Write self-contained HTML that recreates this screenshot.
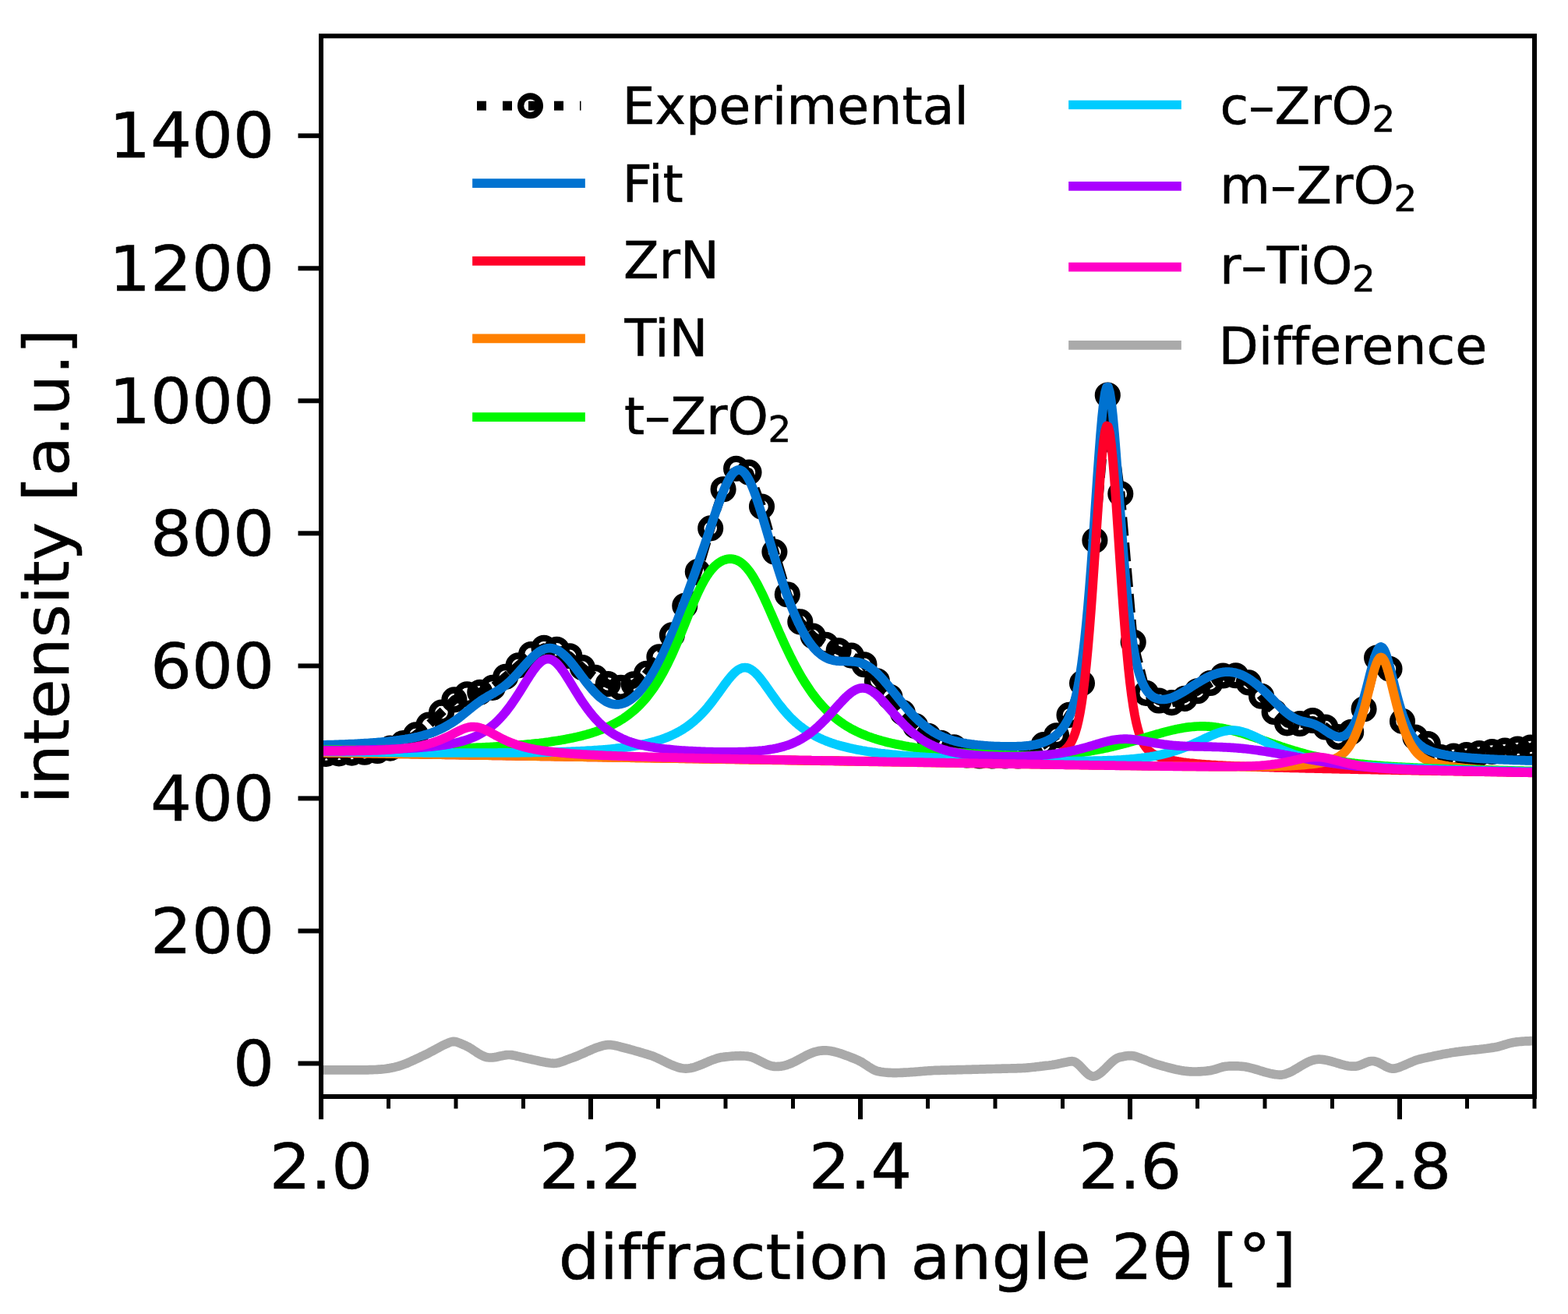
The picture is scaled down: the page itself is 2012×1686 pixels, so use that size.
<!DOCTYPE html><html><head><meta charset="utf-8"><title>XRD fit</title><style>html,body{margin:0;padding:0;background:#fff;}svg{display:block;}text{font-family:'DejaVu Sans', 'Liberation Sans', sans-serif;fill:#000;font-variant-ligatures:none;font-kerning:normal;stroke:#000;stroke-width:0.6px;}</style></head><body>
<svg width="2012" height="1686" viewBox="0 0 2012 1686">
<rect width="2012" height="1686" fill="#fff"/>
<defs><clipPath id="ax"><rect x="412.0" y="46.2" width="1557.0" height="1360.8"/></clipPath></defs>
<g clip-path="url(#ax)">
<polyline points="402.1,967.9 418.5,967.4 434.9,966.9 451.4,966.1 467.8,965.2 484.3,963.5 500.7,960.1 517.1,953.6 533.6,942.9 550,930.1 566.5,914.1 582.9,897.9 599.3,890.7 615.8,888.3 632.2,882.4 648.7,868.4 665.1,853.9 681.5,839.6 698,831.2 714.4,833.3 730.9,841.8 747.3,856.5 763.7,869.4 780.2,877.6 796.6,882.2 813.1,877.9 829.5,864.3 845.9,842.9 862.4,814.9 878.8,777.2 895.3,733.6 911.7,677.9 928.1,627.7 944.6,601.3 961,606.1 977.5,650 993.9,708.1 1010.3,762.7 1026.8,797.9 1043.2,816 1059.7,827.2 1076.1,834.8 1092.5,841.1 1109,852.7 1125.4,873.7 1141.9,894.2 1158.3,914.4 1174.7,931.6 1191.2,944.4 1207.6,953.2 1224.1,958.8 1240.5,969 1256.9,970 1273.4,970 1289.8,970 1306.3,970 1322.7,969 1339.1,955.6 1355.6,943.8 1372,917.4 1388.5,876.6 1404.9,693.2 1421.3,507 1437.8,633.5 1454.2,824 1470.7,889.4 1487.1,899 1503.5,901.6 1520,896.4 1536.4,886.8 1552.9,876.5 1569.3,867 1585.7,866.8 1602.2,875.9 1618.6,893.3 1635.1,913.5 1651.5,927.9 1667.9,928.5 1684.4,924.5 1700.8,933 1717.3,945.5 1733.7,939.3 1750.1,909.7 1766.6,844 1783,858.2 1799.5,925.4 1815.9,946 1832.3,954.5 1848.8,971.5 1865.2,970 1881.7,968.5 1898.1,966.5 1914.5,964.5 1931,963 1947.4,961 1963.9,959 1980.3,957" fill="none" stroke="#000" stroke-width="11.7" stroke-linejoin="round" stroke-linecap="square" stroke-dasharray="12.4 20.6" stroke-linecap="butt"/>
<g fill="none" stroke="#000" stroke-width="8.3"><circle cx="402.1" cy="967.9" r="12.4"/><circle cx="418.5" cy="967.4" r="12.4"/><circle cx="434.9" cy="966.9" r="12.4"/><circle cx="451.4" cy="966.1" r="12.4"/><circle cx="467.8" cy="965.2" r="12.4"/><circle cx="484.3" cy="963.5" r="12.4"/><circle cx="500.7" cy="960.1" r="12.4"/><circle cx="517.1" cy="953.6" r="12.4"/><circle cx="533.6" cy="942.9" r="12.4"/><circle cx="550" cy="930.1" r="12.4"/><circle cx="566.5" cy="914.1" r="12.4"/><circle cx="582.9" cy="897.9" r="12.4"/><circle cx="599.3" cy="890.7" r="12.4"/><circle cx="615.8" cy="888.3" r="12.4"/><circle cx="632.2" cy="882.4" r="12.4"/><circle cx="648.7" cy="868.4" r="12.4"/><circle cx="665.1" cy="853.9" r="12.4"/><circle cx="681.5" cy="839.6" r="12.4"/><circle cx="698" cy="831.2" r="12.4"/><circle cx="714.4" cy="833.3" r="12.4"/><circle cx="730.9" cy="841.8" r="12.4"/><circle cx="747.3" cy="856.5" r="12.4"/><circle cx="763.7" cy="869.4" r="12.4"/><circle cx="780.2" cy="877.6" r="12.4"/><circle cx="796.6" cy="882.2" r="12.4"/><circle cx="813.1" cy="877.9" r="12.4"/><circle cx="829.5" cy="864.3" r="12.4"/><circle cx="845.9" cy="842.9" r="12.4"/><circle cx="862.4" cy="814.9" r="12.4"/><circle cx="878.8" cy="777.2" r="12.4"/><circle cx="895.3" cy="733.6" r="12.4"/><circle cx="911.7" cy="677.9" r="12.4"/><circle cx="928.1" cy="627.7" r="12.4"/><circle cx="944.6" cy="601.3" r="12.4"/><circle cx="961" cy="606.1" r="12.4"/><circle cx="977.5" cy="650" r="12.4"/><circle cx="993.9" cy="708.1" r="12.4"/><circle cx="1010.3" cy="762.7" r="12.4"/><circle cx="1026.8" cy="797.9" r="12.4"/><circle cx="1043.2" cy="816" r="12.4"/><circle cx="1059.7" cy="827.2" r="12.4"/><circle cx="1076.1" cy="834.8" r="12.4"/><circle cx="1092.5" cy="841.1" r="12.4"/><circle cx="1109" cy="852.7" r="12.4"/><circle cx="1125.4" cy="873.7" r="12.4"/><circle cx="1141.9" cy="894.2" r="12.4"/><circle cx="1158.3" cy="914.4" r="12.4"/><circle cx="1174.7" cy="931.6" r="12.4"/><circle cx="1191.2" cy="944.4" r="12.4"/><circle cx="1207.6" cy="953.2" r="12.4"/><circle cx="1224.1" cy="958.8" r="12.4"/><circle cx="1240.5" cy="969" r="12.4"/><circle cx="1256.9" cy="970" r="12.4"/><circle cx="1273.4" cy="970" r="12.4"/><circle cx="1289.8" cy="970" r="12.4"/><circle cx="1306.3" cy="970" r="12.4"/><circle cx="1322.7" cy="969" r="12.4"/><circle cx="1339.1" cy="955.6" r="12.4"/><circle cx="1355.6" cy="943.8" r="12.4"/><circle cx="1372" cy="917.4" r="12.4"/><circle cx="1388.5" cy="876.6" r="12.4"/><circle cx="1404.9" cy="693.2" r="12.4"/><circle cx="1421.3" cy="507" r="12.4"/><circle cx="1437.8" cy="633.5" r="12.4"/><circle cx="1454.2" cy="824" r="12.4"/><circle cx="1470.7" cy="889.4" r="12.4"/><circle cx="1487.1" cy="899" r="12.4"/><circle cx="1503.5" cy="901.6" r="12.4"/><circle cx="1520" cy="896.4" r="12.4"/><circle cx="1536.4" cy="886.8" r="12.4"/><circle cx="1552.9" cy="876.5" r="12.4"/><circle cx="1569.3" cy="867" r="12.4"/><circle cx="1585.7" cy="866.8" r="12.4"/><circle cx="1602.2" cy="875.9" r="12.4"/><circle cx="1618.6" cy="893.3" r="12.4"/><circle cx="1635.1" cy="913.5" r="12.4"/><circle cx="1651.5" cy="927.9" r="12.4"/><circle cx="1667.9" cy="928.5" r="12.4"/><circle cx="1684.4" cy="924.5" r="12.4"/><circle cx="1700.8" cy="933" r="12.4"/><circle cx="1717.3" cy="945.5" r="12.4"/><circle cx="1733.7" cy="939.3" r="12.4"/><circle cx="1750.1" cy="909.7" r="12.4"/><circle cx="1766.6" cy="844" r="12.4"/><circle cx="1783" cy="858.2" r="12.4"/><circle cx="1799.5" cy="925.4" r="12.4"/><circle cx="1815.9" cy="946" r="12.4"/><circle cx="1832.3" cy="954.5" r="12.4"/><circle cx="1848.8" cy="971.5" r="12.4"/><circle cx="1865.2" cy="970" r="12.4"/><circle cx="1881.7" cy="968.5" r="12.4"/><circle cx="1898.1" cy="966.5" r="12.4"/><circle cx="1914.5" cy="964.5" r="12.4"/><circle cx="1931" cy="963" r="12.4"/><circle cx="1947.4" cy="961" r="12.4"/><circle cx="1963.9" cy="959" r="12.4"/><circle cx="1980.3" cy="957" r="12.4"/></g>
<polyline points="404,956.1 406,956.1 408,956 410,956 412,955.9 414,955.9 416,955.8 418,955.8 420,955.7 422,955.7 424,955.6 426,955.5 428,955.5 430,955.4 432,955.4 434,955.3 436,955.2 438,955.1 440,955.1 442,955 444,954.9 446,954.8 448,954.7 450,954.6 452,954.6 454,954.5 456,954.4 458,954.3 460,954.2 462,954.1 464,953.9 466,953.8 468,953.7 470,953.6 472,953.5 474,953.3 476,953.2 478,953.1 480,952.9 482,952.8 484,952.6 486,952.4 488,952.3 490,952.1 492,951.9 494,951.7 496,951.5 498,951.3 500,951.1 502,950.9 504,950.7 506,950.4 508,950.2 510,949.9 512,949.7 514,949.4 516,949.1 518,948.8 520,948.5 522,948.1 524,947.8 526,947.4 528,947.1 530,946.7 532,946.3 534,945.8 536,945.4 538,944.9 540,944.4 542,943.9 544,943.3 546,942.8 548,942.2 550,941.5 552,940.9 554,940.2 556,939.4 558,938.7 560,937.9 562,937 564,936.1 566,935.2 568,934.2 570,933.2 572,932.1 574,931 576,929.8 578,928.6 580,927.3 582,926 584,924.6 586,923.2 588,921.7 590,920.2 592,918.6 594,917 596,915.4 598,913.8 600,912.1 602,910.5 604,908.9 606,907.3 608,905.7 610,904.1 612,902.6 614,901.2 616,899.8 618,898.4 620,897.1 622,895.9 624,894.7 626,893.5 628,892.4 630,891.3 632,890.1 634,889 636,887.8 638,886.6 640,885.4 642,884 644,882.7 646,881.2 648,879.6 650,878 652,876.3 654,874.4 656,872.5 658,870.6 660,868.5 662,866.4 664,864.2 666,862 668,859.7 670,857.5 672,855.2 674,853 676,850.8 678,848.6 680,846.5 682,844.5 684,842.6 686,840.7 688,839.1 690,837.5 692,836.1 694,834.9 696,833.9 698,833 700,832.4 702,831.9 704,831.7 706,831.6 708,831.8 710,832.2 712,832.8 714,833.6 716,834.6 718,835.8 720,837.2 722,838.8 724,840.6 726,842.5 728,844.5 730,846.7 732,849 734,851.5 736,853.9 738,856.5 740,859.1 742,861.8 744,864.5 746,867.2 748,869.8 750,872.5 752,875.1 754,877.7 756,880.2 758,882.6 760,884.9 762,887.1 764,889.2 766,891.2 768,893.1 770,894.9 772,896.4 774,897.9 776,899.2 778,900.4 780,901.3 782,902.2 784,902.9 786,903.4 788,903.7 790,903.9 792,903.9 794,903.8 796,903.5 798,903.1 800,902.4 802,901.7 804,900.8 806,899.7 808,898.5 810,897.1 812,895.6 814,893.9 816,892.1 818,890.2 820,888.1 822,885.8 824,883.5 826,881 828,878.3 830,875.5 832,872.6 834,869.6 836,866.4 838,863.1 840,859.6 842,856.1 844,852.4 846,848.5 848,844.6 850,840.5 852,836.3 854,832 856,827.6 858,823.1 860,818.4 862,813.7 864,808.9 866,803.9 868,798.9 870,793.8 872,788.7 874,783.5 876,778.2 878,772.8 880,767.4 882,762 884,756.5 886,751 888,745.4 890,739.8 892,734.2 894,728.5 896,722.8 898,717 900,711.2 902,705.4 904,699.6 906,693.7 908,687.8 910,681.8 912,675.9 914,670 916,664.1 918,658.2 920,652.5 922,646.8 924,641.3 926,636 928,630.9 930,626.1 932,621.7 934,617.5 936,613.9 938,610.6 940,607.9 942,605.7 944,604.2 946,603.2 948,602.8 950,603.1 952,604 954,605.5 956,607.6 958,610.4 960,613.7 962,617.5 964,621.8 966,626.6 968,631.7 970,637.2 972,643 974,649.1 976,655.4 978,661.8 980,668.4 982,675.1 984,681.8 986,688.6 988,695.3 990,702 992,708.7 994,715.3 996,721.9 998,728.3 1000,734.6 1002,740.8 1004,746.8 1006,752.7 1008,758.4 1010,764 1012,769.4 1014,774.7 1016,779.7 1018,784.6 1020,789.3 1022,793.8 1024,798.2 1026,802.3 1028,806.3 1030,810 1032,813.6 1034,817 1036,820.1 1038,823.1 1040,825.9 1042,828.5 1044,831 1046,833.2 1048,835.3 1050,837.1 1052,838.8 1054,840.4 1056,841.8 1058,843 1060,844 1062,845 1064,845.8 1066,846.4 1068,847 1070,847.4 1072,847.8 1074,848.1 1076,848.2 1078,848.4 1080,848.5 1082,848.5 1084,848.5 1086,848.5 1088,848.6 1090,848.6 1092,848.7 1094,848.8 1096,849 1098,849.2 1100,849.5 1102,850 1104,850.5 1106,851.1 1108,851.9 1110,852.8 1112,853.8 1114,854.9 1116,856.2 1118,857.6 1120,859.2 1122,860.8 1124,862.6 1126,864.5 1128,866.5 1130,868.6 1132,870.7 1134,873 1136,875.3 1138,877.6 1140,880 1142,882.5 1144,884.9 1146,887.4 1148,889.9 1150,892.4 1152,894.9 1154,897.4 1156,899.8 1158,902.3 1160,904.7 1162,907 1164,909.3 1166,911.6 1168,913.8 1170,916 1172,918.1 1174,920.1 1176,922.1 1178,924 1180,925.9 1182,927.6 1184,929.3 1186,931 1188,932.5 1190,934 1192,935.5 1194,936.8 1196,938.2 1198,939.4 1200,940.6 1202,941.7 1204,942.7 1206,943.7 1208,944.7 1210,945.6 1212,946.4 1214,947.2 1216,947.9 1218,948.6 1220,949.3 1222,949.9 1224,950.5 1226,951 1228,951.5 1230,952 1232,952.4 1234,952.9 1236,953.3 1238,953.6 1240,954 1242,954.3 1244,954.6 1246,954.9 1248,955.1 1250,955.4 1252,955.6 1254,955.9 1256,956.1 1258,956.2 1260,956.4 1262,956.6 1264,956.8 1266,956.9 1268,957 1270,957.2 1272,957.3 1274,957.4 1276,957.5 1278,957.6 1280,957.6 1282,957.7 1284,957.8 1286,957.8 1288,957.9 1290,957.9 1292,957.9 1294,957.9 1296,957.9 1298,957.9 1300,957.9 1302,957.8 1304,957.8 1306,957.7 1308,957.6 1310,957.5 1312,957.4 1314,957.2 1316,957.1 1318,956.9 1320,956.7 1322,956.4 1324,956.1 1326,955.8 1328,955.4 1330,955 1332,954.5 1334,954 1336,953.4 1338,952.8 1340,952.1 1342,951.2 1344,950.3 1346,949.3 1348,948.2 1350,947 1352,945.6 1354,944.1 1356,942.4 1358,940.6 1360,938.5 1362,936.3 1364,933.7 1366,930.9 1368,927.6 1370,924 1372,919.8 1374,915 1376,909.5 1378,903.1 1380,895.7 1382,887 1384,877 1386,865.3 1388,851.9 1390,836.5 1392,819.1 1394,799.5 1396,777.8 1398,753.9 1400,728.1 1402,700.7 1404,672.1 1406,642.8 1408,613.6 1410,585.3 1412,559 1414,535.8 1416,517 1418,503.7 1420,496.7 1422,496.5 1424,503.1 1426,515.8 1428,533.8 1430,556 1432,581 1434,607.8 1436,635.4 1438,662.9 1440,689.6 1442,715.1 1444,739 1446,760.9 1448,780.7 1450,798.4 1452,814.1 1454,827.7 1456,839.4 1458,849.4 1460,858 1462,865.2 1464,871.2 1466,876.3 1468,880.5 1470,884 1472,886.9 1474,889.4 1476,891.4 1478,893 1480,894.4 1482,895.4 1484,896.2 1486,896.8 1488,897.2 1490,897.4 1492,897.5 1494,897.4 1496,897.2 1498,896.8 1500,896.3 1502,895.7 1504,895 1506,894.2 1508,893.3 1510,892.3 1512,891.3 1514,890.2 1516,889.1 1518,887.9 1520,886.7 1522,885.5 1524,884.2 1526,883 1528,881.7 1530,880.4 1532,879.1 1534,877.9 1536,876.6 1538,875.4 1540,874.2 1542,873 1544,871.9 1546,870.8 1548,869.7 1550,868.7 1552,867.8 1554,866.9 1556,866.1 1558,865.3 1560,864.7 1562,864 1564,863.5 1566,863.1 1568,862.7 1570,862.4 1572,862.2 1574,862.1 1576,862.1 1578,862.2 1580,862.4 1582,862.7 1584,863 1586,863.5 1588,864.1 1590,864.7 1592,865.5 1594,866.3 1596,867.3 1598,868.3 1600,869.4 1602,870.6 1604,871.9 1606,873.3 1608,874.7 1610,876.3 1612,877.8 1614,879.5 1616,881.2 1618,883 1620,884.8 1622,886.7 1624,888.6 1626,890.5 1628,892.5 1630,894.5 1632,896.5 1634,898.5 1636,900.6 1638,902.6 1640,904.6 1642,906.5 1644,908.4 1646,910.3 1648,912.1 1650,913.9 1652,915.5 1654,917 1656,918.5 1658,919.8 1660,921 1662,922 1664,922.9 1666,923.7 1668,924.4 1670,925 1672,925.6 1674,926 1676,926.5 1678,926.9 1680,927.3 1682,927.9 1684,928.5 1686,929.1 1688,929.9 1690,930.9 1692,931.9 1694,933.1 1696,934.3 1698,935.6 1700,937 1702,938.3 1704,939.7 1706,941 1708,942.1 1710,943.2 1712,944.1 1714,944.8 1716,945.3 1718,945.5 1720,945.5 1722,945.1 1724,944.4 1726,943.4 1728,942 1730,940.2 1732,938 1734,935.3 1736,932.1 1738,928.5 1740,924.4 1742,919.7 1744,914.5 1746,908.7 1748,902.5 1750,895.7 1752,888.5 1754,881 1756,873.2 1758,865.3 1760,857.6 1762,850.2 1764,843.5 1766,837.9 1768,833.5 1770,830.8 1772,829.9 1774,830.9 1776,833.7 1778,838.2 1780,844 1782,850.8 1784,858.4 1786,866.4 1788,874.5 1790,882.5 1792,890.3 1794,897.8 1796,904.9 1798,911.5 1800,917.6 1802,923.2 1804,928.4 1806,933 1808,937.2 1810,940.9 1812,944.2 1814,947.1 1816,949.8 1818,952.1 1820,954.1 1822,955.9 1824,957.4 1826,958.8 1828,960.1 1830,961.2 1832,962.1 1834,963 1836,963.8 1838,964.5 1840,965.2 1842,965.7 1844,966.3 1846,966.8 1848,967.3 1850,967.7 1852,968.1 1854,968.5 1856,968.8 1858,969.2 1860,969.5 1862,969.8 1864,970 1866,970.3 1868,970.6 1870,970.8 1872,971 1874,971.2 1876,971.4 1878,971.6 1880,971.8 1882,972 1884,972.2 1886,972.3 1888,972.5 1890,972.7 1892,972.8 1894,972.9 1896,973.1 1898,973.2 1900,973.3 1902,973.5 1904,973.6 1906,973.7 1908,973.8 1910,973.9 1912,974 1914,974.1 1916,974.2 1918,974.3 1920,974.4 1922,974.5 1924,974.6 1926,974.6 1928,974.7 1930,974.8 1932,974.9 1934,975 1936,975 1938,975.1 1940,975.2 1942,975.3 1944,975.3 1946,975.4 1948,975.5 1950,975.5 1952,975.6 1954,975.6 1956,975.7 1958,975.8 1960,975.8 1962,975.9 1964,975.9 1966,976 1968,976 1970,976.1 1972,976.2 1974,976.2 1976,976.3" fill="none" stroke="#0072d0" stroke-width="11.7" stroke-linejoin="round" stroke-linecap="square"/>
<polyline points="404,965.5 406,965.5 408,965.6 410,965.6 412,965.6 414,965.7 416,965.7 418,965.7 420,965.8 422,965.8 424,965.8 426,965.9 428,965.9 430,965.9 432,966 434,966 436,966 438,966.1 440,966.1 442,966.1 444,966.2 446,966.2 448,966.2 450,966.3 452,966.3 454,966.3 456,966.4 458,966.4 460,966.4 462,966.5 464,966.5 466,966.5 468,966.6 470,966.6 472,966.6 474,966.7 476,966.7 478,966.7 480,966.8 482,966.8 484,966.8 486,966.9 488,966.9 490,966.9 492,967 494,967 496,967 498,967.1 500,967.1 502,967.1 504,967.2 506,967.2 508,967.2 510,967.3 512,967.3 514,967.3 516,967.4 518,967.4 520,967.4 522,967.5 524,967.5 526,967.5 528,967.6 530,967.6 532,967.6 534,967.7 536,967.7 538,967.7 540,967.8 542,967.8 544,967.8 546,967.9 548,967.9 550,967.9 552,968 554,968 556,968 558,968.1 560,968.1 562,968.1 564,968.1 566,968.2 568,968.2 570,968.2 572,968.3 574,968.3 576,968.3 578,968.4 580,968.4 582,968.4 584,968.5 586,968.5 588,968.5 590,968.6 592,968.6 594,968.6 596,968.7 598,968.7 600,968.7 602,968.8 604,968.8 606,968.8 608,968.9 610,968.9 612,968.9 614,969 616,969 618,969 620,969.1 622,969.1 624,969.1 626,969.2 628,969.2 630,969.2 632,969.3 634,969.3 636,969.3 638,969.4 640,969.4 642,969.4 644,969.5 646,969.5 648,969.5 650,969.6 652,969.6 654,969.6 656,969.7 658,969.7 660,969.7 662,969.8 664,969.8 666,969.8 668,969.9 670,969.9 672,969.9 674,970 676,970 678,970 680,970 682,970.1 684,970.1 686,970.1 688,970.2 690,970.2 692,970.2 694,970.3 696,970.3 698,970.3 700,970.4 702,970.4 704,970.4 706,970.5 708,970.5 710,970.5 712,970.6 714,970.6 716,970.6 718,970.7 720,970.7 722,970.7 724,970.8 726,970.8 728,970.8 730,970.9 732,970.9 734,970.9 736,971 738,971 740,971 742,971.1 744,971.1 746,971.1 748,971.2 750,971.2 752,971.2 754,971.3 756,971.3 758,971.3 760,971.4 762,971.4 764,971.4 766,971.4 768,971.5 770,971.5 772,971.5 774,971.6 776,971.6 778,971.6 780,971.7 782,971.7 784,971.7 786,971.8 788,971.8 790,971.8 792,971.9 794,971.9 796,971.9 798,972 800,972 802,972 804,972.1 806,972.1 808,972.1 810,972.2 812,972.2 814,972.2 816,972.3 818,972.3 820,972.3 822,972.4 824,972.4 826,972.4 828,972.4 830,972.5 832,972.5 834,972.5 836,972.6 838,972.6 840,972.6 842,972.7 844,972.7 846,972.7 848,972.8 850,972.8 852,972.8 854,972.9 856,972.9 858,972.9 860,973 862,973 864,973 866,973.1 868,973.1 870,973.1 872,973.1 874,973.2 876,973.2 878,973.2 880,973.3 882,973.3 884,973.3 886,973.4 888,973.4 890,973.4 892,973.5 894,973.5 896,973.5 898,973.6 900,973.6 902,973.6 904,973.7 906,973.7 908,973.7 910,973.7 912,973.8 914,973.8 916,973.8 918,973.9 920,973.9 922,973.9 924,974 926,974 928,974 930,974.1 932,974.1 934,974.1 936,974.2 938,974.2 940,974.2 942,974.2 944,974.3 946,974.3 948,974.3 950,974.4 952,974.4 954,974.4 956,974.5 958,974.5 960,974.5 962,974.6 964,974.6 966,974.6 968,974.7 970,974.7 972,974.7 974,974.7 976,974.8 978,974.8 980,974.8 982,974.9 984,974.9 986,974.9 988,975 990,975 992,975 994,975 996,975.1 998,975.1 1000,975.1 1002,975.2 1004,975.2 1006,975.2 1008,975.3 1010,975.3 1012,975.3 1014,975.3 1016,975.4 1018,975.4 1020,975.4 1022,975.5 1024,975.5 1026,975.5 1028,975.6 1030,975.6 1032,975.6 1034,975.6 1036,975.7 1038,975.7 1040,975.7 1042,975.8 1044,975.8 1046,975.8 1048,975.8 1050,975.9 1052,975.9 1054,975.9 1056,976 1058,976 1060,976 1062,976 1064,976.1 1066,976.1 1068,976.1 1070,976.2 1072,976.2 1074,976.2 1076,976.2 1078,976.3 1080,976.3 1082,976.3 1084,976.3 1086,976.4 1088,976.4 1090,976.4 1092,976.4 1094,976.5 1096,976.5 1098,976.5 1100,976.6 1102,976.6 1104,976.6 1106,976.6 1108,976.7 1110,976.7 1112,976.7 1114,976.7 1116,976.8 1118,976.8 1120,976.8 1122,976.8 1124,976.9 1126,976.9 1128,976.9 1130,976.9 1132,977 1134,977 1136,977 1138,977 1140,977 1142,977.1 1144,977.1 1146,977.1 1148,977.1 1150,977.2 1152,977.2 1154,977.2 1156,977.2 1158,977.2 1160,977.3 1162,977.3 1164,977.3 1166,977.3 1168,977.3 1170,977.4 1172,977.4 1174,977.4 1176,977.4 1178,977.4 1180,977.4 1182,977.5 1184,977.5 1186,977.5 1188,977.5 1190,977.5 1192,977.5 1194,977.5 1196,977.6 1198,977.6 1200,977.6 1202,977.6 1204,977.6 1206,977.6 1208,977.6 1210,977.6 1212,977.6 1214,977.6 1216,977.6 1218,977.7 1220,977.7 1222,977.7 1224,977.7 1226,977.7 1228,977.7 1230,977.7 1232,977.7 1234,977.7 1236,977.7 1238,977.7 1240,977.6 1242,977.6 1244,977.6 1246,977.6 1248,977.6 1250,977.6 1252,977.6 1254,977.6 1256,977.5 1258,977.5 1260,977.5 1262,977.5 1264,977.5 1266,977.4 1268,977.4 1270,977.4 1272,977.3 1274,977.3 1276,977.2 1278,977.2 1280,977.2 1282,977.1 1284,977 1286,977 1288,976.9 1290,976.9 1292,976.8 1294,976.7 1296,976.6 1298,976.5 1300,976.4 1302,976.3 1304,976.2 1306,976.1 1308,976 1310,975.9 1312,975.7 1314,975.6 1316,975.4 1318,975.3 1320,975.1 1322,974.9 1324,974.7 1326,974.5 1328,974.2 1330,974 1332,973.7 1334,973.4 1336,973.1 1338,972.8 1340,972.4 1342,972 1344,971.6 1346,971.2 1348,970.7 1350,970.1 1352,969.5 1354,968.9 1356,968.1 1358,967.3 1360,966.4 1362,965.3 1364,964.1 1366,962.7 1368,960.9 1370,958.9 1372,956.3 1374,953.3 1376,949.5 1378,944.9 1380,939.2 1382,932.3 1384,923.9 1386,913.8 1388,901.8 1390,887.7 1392,871.3 1394,852.5 1396,831.3 1398,807.8 1400,782 1402,754.4 1404,725.3 1406,695.4 1408,665.4 1410,636.3 1412,609.2 1414,585.4 1416,566.2 1418,552.9 1420,546.4 1422,547.3 1424,555.4 1426,570.2 1428,590.6 1430,615.2 1432,642.9 1434,672.4 1436,702.5 1438,732.4 1440,761.3 1442,788.6 1444,813.9 1446,837.1 1448,857.8 1450,876.1 1452,892 1454,905.7 1456,917.3 1458,927.1 1460,935.2 1462,941.9 1464,947.4 1466,951.9 1468,955.6 1470,958.6 1472,961 1474,963.1 1476,964.8 1478,966.3 1480,967.6 1482,968.6 1484,969.6 1486,970.5 1488,971.3 1490,972 1492,972.6 1494,973.2 1496,973.8 1498,974.3 1500,974.8 1502,975.2 1504,975.6 1506,976 1508,976.4 1510,976.7 1512,977.1 1514,977.4 1516,977.7 1518,978 1520,978.2 1522,978.5 1524,978.7 1526,979 1528,979.2 1530,979.4 1532,979.6 1534,979.8 1536,980 1538,980.2 1540,980.3 1542,980.5 1544,980.7 1546,980.8 1548,981 1550,981.1 1552,981.2 1554,981.4 1556,981.5 1558,981.6 1560,981.7 1562,981.9 1564,982 1566,982.1 1568,982.2 1570,982.3 1572,982.4 1574,982.5 1576,982.6 1578,982.7 1580,982.8 1582,982.9 1584,983 1586,983 1588,983.1 1590,983.2 1592,983.3 1594,983.4 1596,983.4 1598,983.5 1600,983.6 1602,983.7 1604,983.7 1606,983.8 1608,983.9 1610,984 1612,984 1614,984.1 1616,984.1 1618,984.2 1620,984.3 1622,984.3 1624,984.4 1626,984.5 1628,984.5 1630,984.6 1632,984.6 1634,984.7 1636,984.8 1638,984.8 1640,984.9 1642,984.9 1644,985 1646,985 1648,985.1 1650,985.1 1652,985.2 1654,985.2 1656,985.3 1658,985.3 1660,985.4 1662,985.4 1664,985.5 1666,985.5 1668,985.6 1670,985.6 1672,985.7 1674,985.7 1676,985.8 1678,985.8 1680,985.9 1682,985.9 1684,986 1686,986 1688,986.1 1690,986.1 1692,986.2 1694,986.2 1696,986.2 1698,986.3 1700,986.3 1702,986.4 1704,986.4 1706,986.5 1708,986.5 1710,986.6 1712,986.6 1714,986.6 1716,986.7 1718,986.7 1720,986.8 1722,986.8 1724,986.9 1726,986.9 1728,986.9 1730,987 1732,987 1734,987.1 1736,987.1 1738,987.1 1740,987.2 1742,987.2 1744,987.3 1746,987.3 1748,987.3 1750,987.4 1752,987.4 1754,987.5 1756,987.5 1758,987.5 1760,987.6 1762,987.6 1764,987.7 1766,987.7 1768,987.7 1770,987.8 1772,987.8 1774,987.9 1776,987.9 1778,987.9 1780,988 1782,988 1784,988 1786,988.1 1788,988.1 1790,988.2 1792,988.2 1794,988.2 1796,988.3 1798,988.3 1800,988.3 1802,988.4 1804,988.4 1806,988.5 1808,988.5 1810,988.5 1812,988.6 1814,988.6 1816,988.6 1818,988.7 1820,988.7 1822,988.8 1824,988.8 1826,988.8 1828,988.9 1830,988.9 1832,988.9 1834,989 1836,989 1838,989.1 1840,989.1 1842,989.1 1844,989.2 1846,989.2 1848,989.2 1850,989.3 1852,989.3 1854,989.3 1856,989.4 1858,989.4 1860,989.5 1862,989.5 1864,989.5 1866,989.6 1868,989.6 1870,989.6 1872,989.7 1874,989.7 1876,989.7 1878,989.8 1880,989.8 1882,989.8 1884,989.9 1886,989.9 1888,990 1890,990 1892,990 1894,990.1 1896,990.1 1898,990.1 1900,990.2 1902,990.2 1904,990.2 1906,990.3 1908,990.3 1910,990.3 1912,990.4 1914,990.4 1916,990.4 1918,990.5 1920,990.5 1922,990.6 1924,990.6 1926,990.6 1928,990.7 1930,990.7 1932,990.7 1934,990.8 1936,990.8 1938,990.8 1940,990.9 1942,990.9 1944,990.9 1946,991 1948,991 1950,991 1952,991.1 1954,991.1 1956,991.1 1958,991.2 1960,991.2 1962,991.3 1964,991.3 1966,991.3 1968,991.4 1970,991.4 1972,991.4 1974,991.5 1976,991.5" fill="none" stroke="#ff0028" stroke-width="11.7" stroke-linejoin="round" stroke-linecap="square"/>
<polyline points="404,965.5 406,965.6 408,965.6 410,965.6 412,965.7 414,965.7 416,965.7 418,965.8 420,965.8 422,965.8 424,965.9 426,965.9 428,965.9 430,966 432,966 434,966 436,966.1 438,966.1 440,966.1 442,966.2 444,966.2 446,966.2 448,966.3 450,966.3 452,966.3 454,966.4 456,966.4 458,966.4 460,966.5 462,966.5 464,966.5 466,966.6 468,966.6 470,966.6 472,966.7 474,966.7 476,966.7 478,966.8 480,966.8 482,966.8 484,966.9 486,966.9 488,966.9 490,967 492,967 494,967 496,967.1 498,967.1 500,967.1 502,967.2 504,967.2 506,967.2 508,967.3 510,967.3 512,967.3 514,967.4 516,967.4 518,967.4 520,967.5 522,967.5 524,967.5 526,967.6 528,967.6 530,967.6 532,967.7 534,967.7 536,967.7 538,967.8 540,967.8 542,967.8 544,967.9 546,967.9 548,967.9 550,968 552,968 554,968 556,968.1 558,968.1 560,968.1 562,968.2 564,968.2 566,968.2 568,968.3 570,968.3 572,968.3 574,968.4 576,968.4 578,968.4 580,968.5 582,968.5 584,968.5 586,968.6 588,968.6 590,968.6 592,968.7 594,968.7 596,968.7 598,968.8 600,968.8 602,968.8 604,968.9 606,968.9 608,968.9 610,969 612,969 614,969 616,969.1 618,969.1 620,969.1 622,969.2 624,969.2 626,969.2 628,969.3 630,969.3 632,969.3 634,969.4 636,969.4 638,969.4 640,969.5 642,969.5 644,969.5 646,969.6 648,969.6 650,969.6 652,969.7 654,969.7 656,969.7 658,969.8 660,969.8 662,969.8 664,969.8 666,969.9 668,969.9 670,969.9 672,970 674,970 676,970 678,970.1 680,970.1 682,970.1 684,970.2 686,970.2 688,970.2 690,970.3 692,970.3 694,970.3 696,970.4 698,970.4 700,970.4 702,970.5 704,970.5 706,970.5 708,970.6 710,970.6 712,970.6 714,970.7 716,970.7 718,970.7 720,970.8 722,970.8 724,970.8 726,970.9 728,970.9 730,970.9 732,971 734,971 736,971 738,971.1 740,971.1 742,971.1 744,971.2 746,971.2 748,971.2 750,971.3 752,971.3 754,971.3 756,971.4 758,971.4 760,971.4 762,971.5 764,971.5 766,971.5 768,971.6 770,971.6 772,971.6 774,971.7 776,971.7 778,971.7 780,971.8 782,971.8 784,971.8 786,971.9 788,971.9 790,971.9 792,972 794,972 796,972 798,972.1 800,972.1 802,972.1 804,972.2 806,972.2 808,972.2 810,972.3 812,972.3 814,972.3 816,972.4 818,972.4 820,972.4 822,972.5 824,972.5 826,972.5 828,972.6 830,972.6 832,972.6 834,972.7 836,972.7 838,972.7 840,972.8 842,972.8 844,972.8 846,972.9 848,972.9 850,972.9 852,973 854,973 856,973 858,973.1 860,973.1 862,973.1 864,973.2 866,973.2 868,973.2 870,973.2 872,973.3 874,973.3 876,973.3 878,973.4 880,973.4 882,973.4 884,973.5 886,973.5 888,973.5 890,973.6 892,973.6 894,973.6 896,973.7 898,973.7 900,973.7 902,973.8 904,973.8 906,973.8 908,973.9 910,973.9 912,973.9 914,974 916,974 918,974 920,974.1 922,974.1 924,974.1 926,974.2 928,974.2 930,974.2 932,974.3 934,974.3 936,974.3 938,974.4 940,974.4 942,974.4 944,974.5 946,974.5 948,974.5 950,974.6 952,974.6 954,974.6 956,974.7 958,974.7 960,974.7 962,974.8 964,974.8 966,974.8 968,974.9 970,974.9 972,974.9 974,975 976,975 978,975 980,975.1 982,975.1 984,975.1 986,975.2 988,975.2 990,975.2 992,975.3 994,975.3 996,975.3 998,975.4 1000,975.4 1002,975.4 1004,975.5 1006,975.5 1008,975.5 1010,975.5 1012,975.6 1014,975.6 1016,975.6 1018,975.7 1020,975.7 1022,975.7 1024,975.8 1026,975.8 1028,975.8 1030,975.9 1032,975.9 1034,975.9 1036,976 1038,976 1040,976 1042,976.1 1044,976.1 1046,976.1 1048,976.2 1050,976.2 1052,976.2 1054,976.3 1056,976.3 1058,976.3 1060,976.4 1062,976.4 1064,976.4 1066,976.5 1068,976.5 1070,976.5 1072,976.6 1074,976.6 1076,976.6 1078,976.7 1080,976.7 1082,976.7 1084,976.8 1086,976.8 1088,976.8 1090,976.9 1092,976.9 1094,976.9 1096,977 1098,977 1100,977 1102,977.1 1104,977.1 1106,977.1 1108,977.1 1110,977.2 1112,977.2 1114,977.2 1116,977.3 1118,977.3 1120,977.3 1122,977.4 1124,977.4 1126,977.4 1128,977.5 1130,977.5 1132,977.5 1134,977.6 1136,977.6 1138,977.6 1140,977.7 1142,977.7 1144,977.7 1146,977.8 1148,977.8 1150,977.8 1152,977.9 1154,977.9 1156,977.9 1158,978 1160,978 1162,978 1164,978.1 1166,978.1 1168,978.1 1170,978.2 1172,978.2 1174,978.2 1176,978.2 1178,978.3 1180,978.3 1182,978.3 1184,978.4 1186,978.4 1188,978.4 1190,978.5 1192,978.5 1194,978.5 1196,978.6 1198,978.6 1200,978.6 1202,978.7 1204,978.7 1206,978.7 1208,978.8 1210,978.8 1212,978.8 1214,978.9 1216,978.9 1218,978.9 1220,979 1222,979 1224,979 1226,979.1 1228,979.1 1230,979.1 1232,979.1 1234,979.2 1236,979.2 1238,979.2 1240,979.3 1242,979.3 1244,979.3 1246,979.4 1248,979.4 1250,979.4 1252,979.5 1254,979.5 1256,979.5 1258,979.6 1260,979.6 1262,979.6 1264,979.7 1266,979.7 1268,979.7 1270,979.7 1272,979.8 1274,979.8 1276,979.8 1278,979.9 1280,979.9 1282,979.9 1284,980 1286,980 1288,980 1290,980.1 1292,980.1 1294,980.1 1296,980.2 1298,980.2 1300,980.2 1302,980.3 1304,980.3 1306,980.3 1308,980.3 1310,980.4 1312,980.4 1314,980.4 1316,980.5 1318,980.5 1320,980.5 1322,980.6 1324,980.6 1326,980.6 1328,980.7 1330,980.7 1332,980.7 1334,980.7 1336,980.8 1338,980.8 1340,980.8 1342,980.9 1344,980.9 1346,980.9 1348,981 1350,981 1352,981 1354,981.1 1356,981.1 1358,981.1 1360,981.1 1362,981.2 1364,981.2 1366,981.2 1368,981.3 1370,981.3 1372,981.3 1374,981.4 1376,981.4 1378,981.4 1380,981.4 1382,981.5 1384,981.5 1386,981.5 1388,981.6 1390,981.6 1392,981.6 1394,981.6 1396,981.7 1398,981.7 1400,981.7 1402,981.8 1404,981.8 1406,981.8 1408,981.9 1410,981.9 1412,981.9 1414,981.9 1416,982 1418,982 1420,982 1422,982.1 1424,982.1 1426,982.1 1428,982.1 1430,982.2 1432,982.2 1434,982.2 1436,982.2 1438,982.3 1440,982.3 1442,982.3 1444,982.4 1446,982.4 1448,982.4 1450,982.4 1452,982.5 1454,982.5 1456,982.5 1458,982.5 1460,982.6 1462,982.6 1464,982.6 1466,982.6 1468,982.7 1470,982.7 1472,982.7 1474,982.8 1476,982.8 1478,982.8 1480,982.8 1482,982.9 1484,982.9 1486,982.9 1488,982.9 1490,982.9 1492,983 1494,983 1496,983 1498,983 1500,983.1 1502,983.1 1504,983.1 1506,983.1 1508,983.2 1510,983.2 1512,983.2 1514,983.2 1516,983.2 1518,983.3 1520,983.3 1522,983.3 1524,983.3 1526,983.3 1528,983.4 1530,983.4 1532,983.4 1534,983.4 1536,983.4 1538,983.4 1540,983.5 1542,983.5 1544,983.5 1546,983.5 1548,983.5 1550,983.5 1552,983.6 1554,983.6 1556,983.6 1558,983.6 1560,983.6 1562,983.6 1564,983.6 1566,983.6 1568,983.6 1570,983.7 1572,983.7 1574,983.7 1576,983.7 1578,983.7 1580,983.7 1582,983.7 1584,983.7 1586,983.7 1588,983.7 1590,983.7 1592,983.7 1594,983.7 1596,983.7 1598,983.7 1600,983.7 1602,983.7 1604,983.7 1606,983.6 1608,983.6 1610,983.6 1612,983.6 1614,983.6 1616,983.6 1618,983.5 1620,983.5 1622,983.5 1624,983.5 1626,983.4 1628,983.4 1630,983.4 1632,983.3 1634,983.3 1636,983.2 1638,983.2 1640,983.1 1642,983.1 1644,983 1646,983 1648,982.9 1650,982.8 1652,982.7 1654,982.6 1656,982.6 1658,982.5 1660,982.4 1662,982.2 1664,982.1 1666,982 1668,981.9 1670,981.7 1672,981.6 1674,981.4 1676,981.2 1678,981 1680,980.8 1682,980.6 1684,980.4 1686,980.1 1688,979.9 1690,979.6 1692,979.3 1694,978.9 1696,978.6 1698,978.2 1700,977.7 1702,977.2 1704,976.7 1706,976.1 1708,975.5 1710,974.8 1712,974 1714,973 1716,972 1718,970.9 1720,969.5 1722,968 1724,966.3 1726,964.4 1728,962.1 1730,959.6 1732,956.7 1734,953.5 1736,949.9 1738,945.8 1740,941.2 1742,936.2 1744,930.6 1746,924.6 1748,918 1750,911 1752,903.6 1754,895.8 1756,887.8 1758,879.8 1760,871.8 1762,864.3 1764,857.4 1766,851.6 1768,847.1 1770,844.3 1772,843.3 1774,844.3 1776,847 1778,851.5 1780,857.3 1782,864.1 1784,871.7 1786,879.7 1788,887.8 1790,895.9 1792,903.8 1794,911.3 1796,918.4 1798,925 1800,931.2 1802,936.8 1804,942 1806,946.6 1808,950.8 1810,954.5 1812,957.9 1814,960.8 1816,963.5 1818,965.8 1820,967.8 1822,969.6 1824,971.2 1826,972.6 1828,973.8 1830,974.9 1832,975.9 1834,976.8 1836,977.6 1838,978.3 1840,978.9 1842,979.5 1844,980.1 1846,980.6 1848,981.1 1850,981.5 1852,981.9 1854,982.3 1856,982.6 1858,983 1860,983.3 1862,983.6 1864,983.9 1866,984.2 1868,984.4 1870,984.7 1872,984.9 1874,985.1 1876,985.3 1878,985.5 1880,985.7 1882,985.9 1884,986.1 1886,986.2 1888,986.4 1890,986.6 1892,986.7 1894,986.9 1896,987 1898,987.1 1900,987.3 1902,987.4 1904,987.5 1906,987.6 1908,987.7 1910,987.9 1912,988 1914,988.1 1916,988.2 1918,988.3 1920,988.4 1922,988.5 1924,988.6 1926,988.7 1928,988.7 1930,988.8 1932,988.9 1934,989 1936,989.1 1938,989.2 1940,989.2 1942,989.3 1944,989.4 1946,989.5 1948,989.5 1950,989.6 1952,989.7 1954,989.7 1956,989.8 1958,989.9 1960,989.9 1962,990 1964,990.1 1966,990.1 1968,990.2 1970,990.2 1972,990.3 1974,990.4 1976,990.4" fill="none" stroke="#ff8000" stroke-width="11.7" stroke-linejoin="round" stroke-linecap="square"/>
<polyline points="404,961.8 406,961.8 408,961.8 410,961.8 412,961.8 414,961.8 416,961.8 418,961.8 420,961.8 422,961.9 424,961.9 426,961.9 428,961.9 430,961.9 432,961.9 434,961.9 436,961.9 438,961.9 440,961.9 442,961.9 444,961.9 446,961.9 448,961.9 450,961.9 452,961.9 454,961.9 456,961.8 458,961.8 460,961.8 462,961.8 464,961.8 466,961.8 468,961.8 470,961.8 472,961.8 474,961.8 476,961.8 478,961.8 480,961.8 482,961.8 484,961.7 486,961.7 488,961.7 490,961.7 492,961.7 494,961.7 496,961.7 498,961.7 500,961.6 502,961.6 504,961.6 506,961.6 508,961.6 510,961.6 512,961.5 514,961.5 516,961.5 518,961.5 520,961.4 522,961.4 524,961.4 526,961.4 528,961.3 530,961.3 532,961.3 534,961.3 536,961.2 538,961.2 540,961.2 542,961.1 544,961.1 546,961.1 548,961 550,961 552,961 554,960.9 556,960.9 558,960.8 560,960.8 562,960.8 564,960.7 566,960.7 568,960.6 570,960.6 572,960.5 574,960.5 576,960.4 578,960.4 580,960.3 582,960.3 584,960.2 586,960.1 588,960.1 590,960 592,960 594,959.9 596,959.8 598,959.8 600,959.7 602,959.6 604,959.5 606,959.5 608,959.4 610,959.3 612,959.2 614,959.1 616,959 618,959 620,958.9 622,958.8 624,958.7 626,958.6 628,958.5 630,958.4 632,958.3 634,958.2 636,958.1 638,957.9 640,957.8 642,957.7 644,957.6 646,957.5 648,957.3 650,957.2 652,957.1 654,956.9 656,956.8 658,956.6 660,956.5 662,956.3 664,956.2 666,956 668,955.8 670,955.7 672,955.5 674,955.3 676,955.1 678,954.9 680,954.8 682,954.6 684,954.3 686,954.1 688,953.9 690,953.7 692,953.5 694,953.2 696,953 698,952.8 700,952.5 702,952.2 704,952 706,951.7 708,951.4 710,951.1 712,950.8 714,950.5 716,950.2 718,949.9 720,949.6 722,949.2 724,948.9 726,948.5 728,948.1 730,947.7 732,947.3 734,946.9 736,946.5 738,946.1 740,945.6 742,945.1 744,944.7 746,944.2 748,943.7 750,943.1 752,942.6 754,942 756,941.5 758,940.9 760,940.2 762,939.6 764,938.9 766,938.2 768,937.5 770,936.8 772,936 774,935.2 776,934.4 778,933.6 780,932.7 782,931.8 784,930.8 786,929.8 788,928.8 790,927.8 792,926.6 794,925.5 796,924.3 798,923.1 800,921.8 802,920.4 804,919 806,917.5 808,916 810,914.4 812,912.8 814,911.1 816,909.3 818,907.4 820,905.5 822,903.4 824,901.3 826,899.1 828,896.8 830,894.4 832,891.9 834,889.3 836,886.6 838,883.8 840,880.9 842,877.8 844,874.7 846,871.4 848,867.9 850,864.4 852,860.7 854,856.9 856,853 858,849 860,844.8 862,840.5 864,836.1 866,831.5 868,826.9 870,822.2 872,817.4 874,812.5 876,807.6 878,802.6 880,797.6 882,792.6 884,787.6 886,782.7 888,777.9 890,773.1 892,768.4 894,763.9 896,759.5 898,755.4 900,751.4 902,747.6 904,744 906,740.7 908,737.6 910,734.7 912,732.1 914,729.7 916,727.5 918,725.6 920,723.9 922,722.4 924,721.1 926,719.9 928,719 930,718.3 932,717.7 934,717.3 936,717.1 938,717.1 940,717.3 942,717.7 944,718.3 946,719 948,720.1 950,721.3 952,722.7 954,724.4 956,726.4 958,728.5 960,730.9 962,733.6 964,736.4 966,739.5 968,742.8 970,746.3 972,749.9 974,753.8 976,757.8 978,761.9 980,766.1 982,770.5 984,774.9 986,779.4 988,784 990,788.5 992,793.1 994,797.7 996,802.3 998,806.9 1000,811.5 1002,816 1004,820.4 1006,824.8 1008,829.1 1010,833.4 1012,837.6 1014,841.7 1016,845.7 1018,849.6 1020,853.4 1022,857.2 1024,860.8 1026,864.3 1028,867.8 1030,871.2 1032,874.4 1034,877.6 1036,880.6 1038,883.6 1040,886.5 1042,889.3 1044,892 1046,894.6 1048,897.1 1050,899.6 1052,902 1054,904.2 1056,906.4 1058,908.6 1060,910.6 1062,912.6 1064,914.5 1066,916.3 1068,918.1 1070,919.8 1072,921.4 1074,923 1076,924.5 1078,926 1080,927.4 1082,928.8 1084,930.1 1086,931.4 1088,932.6 1090,933.7 1092,934.9 1094,935.9 1096,937 1098,938 1100,939 1102,939.9 1104,940.8 1106,941.7 1108,942.5 1110,943.3 1112,944.1 1114,944.9 1116,945.6 1118,946.3 1120,947 1122,947.6 1124,948.3 1126,948.9 1128,949.5 1130,950 1132,950.6 1134,951.1 1136,951.7 1138,952.2 1140,952.7 1142,953.1 1144,953.6 1146,954.1 1148,954.5 1150,954.9 1152,955.3 1154,955.7 1156,956.1 1158,956.5 1160,956.9 1162,957.3 1164,957.6 1166,958 1168,958.3 1170,958.6 1172,958.9 1174,959.3 1176,959.6 1178,959.9 1180,960.2 1182,960.4 1184,960.7 1186,961 1188,961.3 1190,961.5 1192,961.8 1194,962 1196,962.3 1198,962.5 1200,962.7 1202,963 1204,963.2 1206,963.4 1208,963.6 1210,963.8 1212,964 1214,964.2 1216,964.4 1218,964.6 1220,964.8 1222,965 1224,965.2 1226,965.3 1228,965.5 1230,965.7 1232,965.8 1234,966 1236,966.1 1238,966.3 1240,966.4 1242,966.6 1244,966.7 1246,966.9 1248,967 1250,967.1 1252,967.3 1254,967.4 1256,967.5 1258,967.6 1260,967.8 1262,967.9 1264,968 1266,968.1 1268,968.2 1270,968.3 1272,968.4 1274,968.5 1276,968.6 1278,968.6 1280,968.7 1282,968.8 1284,968.9 1286,969 1288,969 1290,969.1 1292,969.1 1294,969.2 1296,969.3 1298,969.3 1300,969.3 1302,969.4 1304,969.4 1306,969.5 1308,969.5 1310,969.5 1312,969.5 1314,969.5 1316,969.5 1318,969.5 1320,969.5 1322,969.5 1324,969.5 1326,969.5 1328,969.5 1330,969.4 1332,969.4 1334,969.4 1336,969.3 1338,969.3 1340,969.2 1342,969.1 1344,969.1 1346,969 1348,968.9 1350,968.8 1352,968.7 1354,968.6 1356,968.4 1358,968.3 1360,968.2 1362,968 1364,967.9 1366,967.7 1368,967.6 1370,967.4 1372,967.2 1374,967 1376,966.8 1378,966.6 1380,966.3 1382,966.1 1384,965.9 1386,965.6 1388,965.3 1390,965.1 1392,964.8 1394,964.5 1396,964.2 1398,963.9 1400,963.5 1402,963.2 1404,962.8 1406,962.5 1408,962.1 1410,961.7 1412,961.3 1414,960.9 1416,960.5 1418,960.1 1420,959.7 1422,959.2 1424,958.8 1426,958.3 1428,957.9 1430,957.4 1432,956.9 1434,956.4 1436,955.9 1438,955.4 1440,954.8 1442,954.3 1444,953.8 1446,953.2 1448,952.7 1450,952.1 1452,951.6 1454,951 1456,950.4 1458,949.8 1460,949.3 1462,948.7 1464,948.1 1466,947.5 1468,946.9 1470,946.3 1472,945.7 1474,945.1 1476,944.5 1478,944 1480,943.4 1482,942.8 1484,942.2 1486,941.6 1488,941.1 1490,940.5 1492,940 1494,939.4 1496,938.9 1498,938.4 1500,937.9 1502,937.4 1504,936.9 1506,936.4 1508,936 1510,935.6 1512,935.1 1514,934.8 1516,934.4 1518,934 1520,933.7 1522,933.4 1524,933.1 1526,932.9 1528,932.7 1530,932.5 1532,932.3 1534,932.2 1536,932 1538,932 1540,931.9 1542,931.9 1544,931.9 1546,931.9 1548,932 1550,932.1 1552,932.2 1554,932.4 1556,932.6 1558,932.8 1560,933.1 1562,933.3 1564,933.7 1566,934 1568,934.3 1570,934.7 1572,935.1 1574,935.6 1576,936 1578,936.5 1580,937 1582,937.5 1584,938.1 1586,938.6 1588,939.2 1590,939.8 1592,940.4 1594,941 1596,941.6 1598,942.2 1600,942.9 1602,943.6 1604,944.2 1606,944.9 1608,945.6 1610,946.2 1612,946.9 1614,947.6 1616,948.3 1618,949 1620,949.7 1622,950.4 1624,951.1 1626,951.8 1628,952.5 1630,953.2 1632,953.9 1634,954.6 1636,955.3 1638,955.9 1640,956.6 1642,957.3 1644,958 1646,958.6 1648,959.3 1650,959.9 1652,960.6 1654,961.2 1656,961.8 1658,962.4 1660,963 1662,963.6 1664,964.2 1666,964.8 1668,965.4 1670,965.9 1672,966.5 1674,967 1676,967.6 1678,968.1 1680,968.6 1682,969.1 1684,969.6 1686,970.1 1688,970.5 1690,971 1692,971.5 1694,971.9 1696,972.3 1698,972.8 1700,973.2 1702,973.6 1704,974 1706,974.3 1708,974.7 1710,975.1 1712,975.4 1714,975.8 1716,976.1 1718,976.5 1720,976.8 1722,977.1 1724,977.4 1726,977.7 1728,978 1730,978.2 1732,978.5 1734,978.8 1736,979 1738,979.3 1740,979.5 1742,979.8 1744,980 1746,980.2 1748,980.4 1750,980.6 1752,980.8 1754,981 1756,981.2 1758,981.4 1760,981.6 1762,981.8 1764,981.9 1766,982.1 1768,982.3 1770,982.4 1772,982.6 1774,982.7 1776,982.9 1778,983 1780,983.1 1782,983.3 1784,983.4 1786,983.5 1788,983.6 1790,983.8 1792,983.9 1794,984 1796,984.1 1798,984.2 1800,984.3 1802,984.4 1804,984.5 1806,984.6 1808,984.7 1810,984.8 1812,984.9 1814,985 1816,985.1 1818,985.2 1820,985.3 1822,985.3 1824,985.4 1826,985.5 1828,985.6 1830,985.7 1832,985.7 1834,985.8 1836,985.9 1838,986 1840,986 1842,986.1 1844,986.2 1846,986.2 1848,986.3 1850,986.4 1852,986.4 1854,986.5 1856,986.6 1858,986.6 1860,986.7 1862,986.8 1864,986.8 1866,986.9 1868,986.9 1870,987 1872,987.1 1874,987.1 1876,987.2 1878,987.2 1880,987.3 1882,987.4 1884,987.4 1886,987.5 1888,987.5 1890,987.6 1892,987.6 1894,987.7 1896,987.7 1898,987.8 1900,987.8 1902,987.9 1904,988 1906,988 1908,988.1 1910,988.1 1912,988.2 1914,988.2 1916,988.3 1918,988.3 1920,988.4 1922,988.4 1924,988.5 1926,988.5 1928,988.6 1930,988.6 1932,988.7 1934,988.7 1936,988.8 1938,988.8 1940,988.9 1942,988.9 1944,989 1946,989 1948,989.1 1950,989.1 1952,989.2 1954,989.2 1956,989.3 1958,989.3 1960,989.3 1962,989.4 1964,989.4 1966,989.5 1968,989.5 1970,989.6 1972,989.6 1974,989.7 1976,989.7" fill="none" stroke="#00f700" stroke-width="11.7" stroke-linejoin="round" stroke-linecap="square"/>
<polyline points="404,964.3 406,964.4 408,964.4 410,964.4 412,964.4 414,964.5 416,964.5 418,964.5 420,964.5 422,964.6 424,964.6 426,964.6 428,964.6 430,964.7 432,964.7 434,964.7 436,964.7 438,964.7 440,964.8 442,964.8 444,964.8 446,964.8 448,964.9 450,964.9 452,964.9 454,964.9 456,964.9 458,965 460,965 462,965 464,965 466,965.1 468,965.1 470,965.1 472,965.1 474,965.1 476,965.2 478,965.2 480,965.2 482,965.2 484,965.2 486,965.3 488,965.3 490,965.3 492,965.3 494,965.3 496,965.4 498,965.4 500,965.4 502,965.4 504,965.4 506,965.4 508,965.5 510,965.5 512,965.5 514,965.5 516,965.5 518,965.6 520,965.6 522,965.6 524,965.6 526,965.6 528,965.6 530,965.6 532,965.7 534,965.7 536,965.7 538,965.7 540,965.7 542,965.7 544,965.8 546,965.8 548,965.8 550,965.8 552,965.8 554,965.8 556,965.8 558,965.8 560,965.8 562,965.9 564,965.9 566,965.9 568,965.9 570,965.9 572,965.9 574,965.9 576,965.9 578,965.9 580,965.9 582,966 584,966 586,966 588,966 590,966 592,966 594,966 596,966 598,966 600,966 602,966 604,966 606,966 608,966 610,966 612,966 614,966 616,966 618,966 620,966 622,966 624,966 626,966 628,966 630,966 632,966 634,966 636,966 638,966 640,965.9 642,965.9 644,965.9 646,965.9 648,965.9 650,965.9 652,965.9 654,965.9 656,965.9 658,965.8 660,965.8 662,965.8 664,965.8 666,965.8 668,965.7 670,965.7 672,965.7 674,965.7 676,965.6 678,965.6 680,965.6 682,965.6 684,965.5 686,965.5 688,965.5 690,965.4 692,965.4 694,965.4 696,965.3 698,965.3 700,965.2 702,965.2 704,965.1 706,965.1 708,965 710,965 712,964.9 714,964.9 716,964.8 718,964.8 720,964.7 722,964.6 724,964.6 726,964.5 728,964.4 730,964.4 732,964.3 734,964.2 736,964.1 738,964 740,963.9 742,963.9 744,963.8 746,963.7 748,963.6 750,963.5 752,963.3 754,963.2 756,963.1 758,963 760,962.9 762,962.7 764,962.6 766,962.5 768,962.3 770,962.2 772,962 774,961.9 776,961.7 778,961.5 780,961.4 782,961.2 784,961 786,960.8 788,960.6 790,960.4 792,960.1 794,959.9 796,959.7 798,959.4 800,959.2 802,958.9 804,958.6 806,958.4 808,958.1 810,957.8 812,957.4 814,957.1 816,956.8 818,956.4 820,956 822,955.6 824,955.2 826,954.8 828,954.4 830,953.9 832,953.5 834,953 836,952.5 838,951.9 840,951.4 842,950.8 844,950.2 846,949.6 848,948.9 850,948.2 852,947.5 854,946.8 856,946 858,945.2 860,944.3 862,943.4 864,942.5 866,941.5 868,940.5 870,939.4 872,938.3 874,937.2 876,936 878,934.7 880,933.4 882,932 884,930.5 886,929 888,927.4 890,925.8 892,924 894,922.2 896,920.4 898,918.4 900,916.4 902,914.3 904,912.1 906,909.8 908,907.5 910,905 912,902.5 914,900 916,897.3 918,894.7 920,891.9 922,889.2 924,886.4 926,883.6 928,880.8 930,878.1 932,875.4 934,872.8 936,870.3 938,867.9 940,865.7 942,863.6 944,861.8 946,860.2 948,858.9 950,857.9 952,857.1 954,856.7 956,856.5 958,856.7 960,857.2 962,858.1 964,859.2 966,860.6 968,862.2 970,864.1 972,866.2 974,868.5 976,871 978,873.6 980,876.2 982,879 984,881.8 986,884.6 988,887.5 990,890.3 992,893.1 994,895.9 996,898.7 998,901.4 1000,904 1002,906.5 1004,909 1006,911.4 1008,913.8 1010,916 1012,918.2 1014,920.3 1016,922.3 1018,924.2 1020,926.1 1022,927.9 1024,929.6 1026,931.2 1028,932.8 1030,934.3 1032,935.7 1034,937.1 1036,938.5 1038,939.7 1040,941 1042,942.1 1044,943.2 1046,944.3 1048,945.4 1050,946.3 1052,947.3 1054,948.2 1056,949.1 1058,949.9 1060,950.7 1062,951.5 1064,952.2 1066,953 1068,953.7 1070,954.3 1072,955 1074,955.6 1076,956.2 1078,956.7 1080,957.3 1082,957.8 1084,958.3 1086,958.8 1088,959.3 1090,959.8 1092,960.2 1094,960.6 1096,961.1 1098,961.5 1100,961.9 1102,962.2 1104,962.6 1106,963 1108,963.3 1110,963.6 1112,964 1114,964.3 1116,964.6 1118,964.9 1120,965.2 1122,965.4 1124,965.7 1126,966 1128,966.2 1130,966.5 1132,966.7 1134,966.9 1136,967.2 1138,967.4 1140,967.6 1142,967.8 1144,968 1146,968.2 1148,968.4 1150,968.6 1152,968.8 1154,969 1156,969.2 1158,969.4 1160,969.5 1162,969.7 1164,969.9 1166,970 1168,970.2 1170,970.3 1172,970.5 1174,970.6 1176,970.8 1178,970.9 1180,971 1182,971.2 1184,971.3 1186,971.4 1188,971.5 1190,971.7 1192,971.8 1194,971.9 1196,972 1198,972.1 1200,972.2 1202,972.4 1204,972.5 1206,972.6 1208,972.7 1210,972.8 1212,972.9 1214,973 1216,973.1 1218,973.1 1220,973.2 1222,973.3 1224,973.4 1226,973.5 1228,973.6 1230,973.7 1232,973.8 1234,973.8 1236,973.9 1238,974 1240,974.1 1242,974.1 1244,974.2 1246,974.3 1248,974.4 1250,974.4 1252,974.5 1254,974.6 1256,974.6 1258,974.7 1260,974.8 1262,974.8 1264,974.9 1266,974.9 1268,975 1270,975.1 1272,975.1 1274,975.2 1276,975.2 1278,975.3 1280,975.3 1282,975.4 1284,975.4 1286,975.5 1288,975.5 1290,975.6 1292,975.6 1294,975.7 1296,975.7 1298,975.8 1300,975.8 1302,975.8 1304,975.9 1306,975.9 1308,976 1310,976 1312,976 1314,976.1 1316,976.1 1318,976.1 1320,976.2 1322,976.2 1324,976.2 1326,976.2 1328,976.3 1330,976.3 1332,976.3 1334,976.3 1336,976.4 1338,976.4 1340,976.4 1342,976.4 1344,976.4 1346,976.5 1348,976.5 1350,976.5 1352,976.5 1354,976.5 1356,976.5 1358,976.5 1360,976.5 1362,976.5 1364,976.6 1366,976.6 1368,976.6 1370,976.6 1372,976.6 1374,976.5 1376,976.5 1378,976.5 1380,976.5 1382,976.5 1384,976.5 1386,976.5 1388,976.5 1390,976.4 1392,976.4 1394,976.4 1396,976.4 1398,976.3 1400,976.3 1402,976.3 1404,976.2 1406,976.2 1408,976.1 1410,976.1 1412,976 1414,976 1416,975.9 1418,975.9 1420,975.8 1422,975.7 1424,975.6 1426,975.6 1428,975.5 1430,975.4 1432,975.3 1434,975.2 1436,975.1 1438,975 1440,974.8 1442,974.7 1444,974.6 1446,974.4 1448,974.3 1450,974.1 1452,973.9 1454,973.7 1456,973.5 1458,973.3 1460,973.1 1462,972.9 1464,972.7 1466,972.4 1468,972.2 1470,971.9 1472,971.6 1474,971.3 1476,971 1478,970.6 1480,970.3 1482,969.9 1484,969.5 1486,969.1 1488,968.7 1490,968.3 1492,967.8 1494,967.3 1496,966.8 1498,966.3 1500,965.8 1502,965.2 1504,964.6 1506,964 1508,963.4 1510,962.7 1512,962.1 1514,961.4 1516,960.6 1518,959.9 1520,959.1 1522,958.3 1524,957.5 1526,956.7 1528,955.9 1530,955 1532,954.1 1534,953.2 1536,952.3 1538,951.4 1540,950.4 1542,949.5 1544,948.6 1546,947.6 1548,946.7 1550,945.8 1552,944.9 1554,944 1556,943.1 1558,942.3 1560,941.5 1562,940.8 1564,940.1 1566,939.4 1568,938.9 1570,938.4 1572,937.9 1574,937.6 1576,937.3 1578,937.1 1580,937 1582,937 1584,937.1 1586,937.3 1588,937.6 1590,937.9 1592,938.4 1594,938.9 1596,939.5 1598,940.1 1600,940.8 1602,941.6 1604,942.4 1606,943.3 1608,944.2 1610,945.1 1612,946.1 1614,947.1 1616,948.1 1618,949.1 1620,950.1 1622,951.1 1624,952.1 1626,953.2 1628,954.2 1630,955.1 1632,956.1 1634,957.1 1636,958 1638,958.9 1640,959.9 1642,960.7 1644,961.6 1646,962.4 1648,963.3 1650,964.1 1652,964.8 1654,965.6 1656,966.3 1658,967 1660,967.7 1662,968.4 1664,969 1666,969.6 1668,970.2 1670,970.8 1672,971.4 1674,971.9 1676,972.4 1678,972.9 1680,973.4 1682,973.9 1684,974.3 1686,974.7 1688,975.1 1690,975.5 1692,975.9 1694,976.3 1696,976.6 1698,977 1700,977.3 1702,977.6 1704,977.9 1706,978.2 1708,978.5 1710,978.8 1712,979 1714,979.3 1716,979.5 1718,979.8 1720,980 1722,980.2 1724,980.4 1726,980.6 1728,980.8 1730,981 1732,981.2 1734,981.4 1736,981.6 1738,981.7 1740,981.9 1742,982.1 1744,982.2 1746,982.4 1748,982.5 1750,982.7 1752,982.8 1754,982.9 1756,983.1 1758,983.2 1760,983.3 1762,983.4 1764,983.6 1766,983.7 1768,983.8 1770,983.9 1772,984 1774,984.1 1776,984.2 1778,984.3 1780,984.4 1782,984.5 1784,984.6 1786,984.7 1788,984.8 1790,984.9 1792,985 1794,985.1 1796,985.2 1798,985.3 1800,985.4 1802,985.4 1804,985.5 1806,985.6 1808,985.7 1810,985.8 1812,985.9 1814,985.9 1816,986 1818,986.1 1820,986.2 1822,986.2 1824,986.3 1826,986.4 1828,986.4 1830,986.5 1832,986.6 1834,986.7 1836,986.7 1838,986.8 1840,986.9 1842,986.9 1844,987 1846,987.1 1848,987.1 1850,987.2 1852,987.2 1854,987.3 1856,987.4 1858,987.4 1860,987.5 1862,987.6 1864,987.6 1866,987.7 1868,987.7 1870,987.8 1872,987.8 1874,987.9 1876,988 1878,988 1880,988.1 1882,988.1 1884,988.2 1886,988.2 1888,988.3 1890,988.3 1892,988.4 1894,988.5 1896,988.5 1898,988.6 1900,988.6 1902,988.7 1904,988.7 1906,988.8 1908,988.8 1910,988.9 1912,988.9 1914,989 1916,989 1918,989.1 1920,989.1 1922,989.2 1924,989.2 1926,989.3 1928,989.3 1930,989.4 1932,989.4 1934,989.5 1936,989.5 1938,989.6 1940,989.6 1942,989.6 1944,989.7 1946,989.7 1948,989.8 1950,989.8 1952,989.9 1954,989.9 1956,990 1958,990 1960,990.1 1962,990.1 1964,990.1 1966,990.2 1968,990.2 1970,990.3 1972,990.3 1974,990.4 1976,990.4" fill="none" stroke="#00ccff" stroke-width="11.7" stroke-linejoin="round" stroke-linecap="square"/>
<polyline points="404,962.6 406,962.6 408,962.6 410,962.6 412,962.6 414,962.6 416,962.6 418,962.6 420,962.6 422,962.6 424,962.5 426,962.5 428,962.5 430,962.5 432,962.5 434,962.5 436,962.5 438,962.5 440,962.4 442,962.4 444,962.4 446,962.4 448,962.4 450,962.3 452,962.3 454,962.3 456,962.3 458,962.2 460,962.2 462,962.2 464,962.1 466,962.1 468,962.1 470,962 472,962 474,962 476,961.9 478,961.9 480,961.8 482,961.8 484,961.7 486,961.7 488,961.6 490,961.6 492,961.5 494,961.5 496,961.4 498,961.3 500,961.3 502,961.2 504,961.1 506,961 508,961 510,960.9 512,960.8 514,960.7 516,960.6 518,960.5 520,960.4 522,960.3 524,960.2 526,960.1 528,960 530,959.8 532,959.7 534,959.6 536,959.4 538,959.3 540,959.1 542,959 544,958.8 546,958.6 548,958.5 550,958.3 552,958.1 554,957.9 556,957.7 558,957.5 560,957.2 562,957 564,956.7 566,956.4 568,956.2 570,955.9 572,955.6 574,955.2 576,954.9 578,954.5 580,954.1 582,953.7 584,953.3 586,952.9 588,952.4 590,951.9 592,951.3 594,950.8 596,950.2 598,949.5 600,948.9 602,948.2 604,947.4 606,946.6 608,945.8 610,944.9 612,943.9 614,942.9 616,941.8 618,940.7 620,939.5 622,938.3 624,936.9 626,935.5 628,934 630,932.5 632,930.8 634,929.1 636,927.3 638,925.4 640,923.4 642,921.3 644,919.1 646,916.8 648,914.5 650,912 652,909.4 654,906.8 656,904 658,901.2 660,898.3 662,895.3 664,892.2 666,889.1 668,885.9 670,882.7 672,879.4 674,876.2 676,873 678,869.8 680,866.7 682,863.7 684,860.8 686,858 688,855.5 690,853.2 692,851.1 694,849.3 696,847.8 698,846.7 700,845.9 702,845.5 704,845.5 706,845.8 708,846.6 710,847.6 712,849.1 714,850.8 716,852.9 718,855.2 720,857.7 722,860.4 724,863.3 726,866.4 728,869.5 730,872.7 732,876 734,879.3 736,882.5 738,885.8 740,889 742,892.2 744,895.4 746,898.4 748,901.4 750,904.3 752,907.1 754,909.9 756,912.5 758,915 760,917.5 762,919.8 764,922.1 766,924.2 768,926.3 770,928.3 772,930.2 774,932 776,933.7 778,935.3 780,936.8 782,938.3 784,939.7 786,941 788,942.3 790,943.4 792,944.6 794,945.6 796,946.6 798,947.6 800,948.5 802,949.3 804,950.1 806,950.9 808,951.6 810,952.3 812,952.9 814,953.5 816,954.1 818,954.7 820,955.2 822,955.7 824,956.2 826,956.6 828,957 830,957.4 832,957.8 834,958.2 836,958.5 838,958.8 840,959.2 842,959.5 844,959.8 846,960 848,960.3 850,960.5 852,960.8 854,961 856,961.2 858,961.4 860,961.6 862,961.8 864,962 866,962.2 868,962.4 870,962.5 872,962.7 874,962.9 876,963 878,963.1 880,963.3 882,963.4 884,963.5 886,963.6 888,963.7 890,963.8 892,963.9 894,964 896,964.1 898,964.2 900,964.3 902,964.4 904,964.4 906,964.5 908,964.6 910,964.6 912,964.7 914,964.7 916,964.8 918,964.8 920,964.8 922,964.8 924,964.9 926,964.9 928,964.9 930,964.9 932,964.9 934,964.9 936,964.9 938,964.9 940,964.9 942,964.8 944,964.8 946,964.8 948,964.7 950,964.7 952,964.6 954,964.6 956,964.5 958,964.4 960,964.3 962,964.2 964,964.1 966,964 968,963.8 970,963.7 972,963.5 974,963.3 976,963.2 978,963 980,962.7 982,962.5 984,962.2 986,961.9 988,961.6 990,961.3 992,961 994,960.6 996,960.2 998,959.7 1000,959.3 1002,958.8 1004,958.2 1006,957.7 1008,957 1010,956.4 1012,955.7 1014,955 1016,954.2 1018,953.3 1020,952.4 1022,951.5 1024,950.5 1026,949.4 1028,948.3 1030,947.2 1032,945.9 1034,944.6 1036,943.3 1038,941.8 1040,940.4 1042,938.8 1044,937.2 1046,935.5 1048,933.8 1050,932 1052,930.1 1054,928.2 1056,926.2 1058,924.2 1060,922.1 1062,920 1064,917.9 1066,915.7 1068,913.5 1070,911.2 1072,909 1074,906.7 1076,904.5 1078,902.3 1080,900.2 1082,898 1084,896 1086,894 1088,892.2 1090,890.5 1092,888.9 1094,887.4 1096,886.2 1098,885.1 1100,884.2 1102,883.5 1104,883.1 1106,882.9 1108,882.9 1110,883.2 1112,883.6 1114,884.3 1116,885.3 1118,886.4 1120,887.7 1122,889.2 1124,890.8 1126,892.6 1128,894.5 1130,896.5 1132,898.6 1134,900.8 1136,903 1138,905.3 1140,907.6 1142,909.9 1144,912.2 1146,914.5 1148,916.8 1150,919 1152,921.3 1154,923.5 1156,925.6 1158,927.7 1160,929.8 1162,931.8 1164,933.7 1166,935.6 1168,937.4 1170,939.1 1172,940.8 1174,942.5 1176,944 1178,945.5 1180,946.9 1182,948.3 1184,949.6 1186,950.9 1188,952.1 1190,953.2 1192,954.3 1194,955.3 1196,956.2 1198,957.1 1200,958 1202,958.8 1204,959.6 1206,960.3 1208,961 1210,961.7 1212,962.3 1214,962.8 1216,963.4 1218,963.9 1220,964.3 1222,964.8 1224,965.2 1226,965.6 1228,966 1230,966.3 1232,966.6 1234,966.9 1236,967.2 1238,967.5 1240,967.8 1242,968 1244,968.2 1246,968.4 1248,968.6 1250,968.8 1252,969 1254,969.1 1256,969.3 1258,969.4 1260,969.6 1262,969.7 1264,969.8 1266,969.9 1268,970 1270,970.1 1272,970.2 1274,970.2 1276,970.3 1278,970.4 1280,970.4 1282,970.5 1284,970.5 1286,970.5 1288,970.6 1290,970.6 1292,970.6 1294,970.6 1296,970.6 1298,970.6 1300,970.6 1302,970.6 1304,970.6 1306,970.5 1308,970.5 1310,970.5 1312,970.4 1314,970.4 1316,970.3 1318,970.2 1320,970.1 1322,970 1324,969.9 1326,969.8 1328,969.7 1330,969.6 1332,969.5 1334,969.3 1336,969.2 1338,969 1340,968.8 1342,968.6 1344,968.4 1346,968.2 1348,968 1350,967.8 1352,967.5 1354,967.3 1356,967 1358,966.7 1360,966.4 1362,966.1 1364,965.8 1366,965.4 1368,965 1370,964.7 1372,964.3 1374,963.9 1376,963.4 1378,963 1380,962.5 1382,962 1384,961.6 1386,961 1388,960.5 1390,960 1392,959.4 1394,958.9 1396,958.3 1398,957.7 1400,957.1 1402,956.5 1404,955.9 1406,955.3 1408,954.7 1410,954.1 1412,953.5 1414,953 1416,952.4 1418,951.9 1420,951.4 1422,950.9 1424,950.4 1426,950 1428,949.6 1430,949.3 1432,949 1434,948.7 1436,948.5 1438,948.4 1440,948.3 1442,948.2 1444,948.2 1446,948.2 1448,948.3 1450,948.4 1452,948.6 1454,948.8 1456,949 1458,949.3 1460,949.6 1462,949.9 1464,950.2 1466,950.5 1468,950.9 1470,951.2 1472,951.6 1474,952 1476,952.3 1478,952.7 1480,953 1482,953.4 1484,953.7 1486,954 1488,954.3 1490,954.6 1492,954.9 1494,955.2 1496,955.4 1498,955.6 1500,955.9 1502,956.1 1504,956.3 1506,956.5 1508,956.6 1510,956.8 1512,956.9 1514,957 1516,957.2 1518,957.3 1520,957.4 1522,957.5 1524,957.5 1526,957.6 1528,957.7 1530,957.7 1532,957.8 1534,957.8 1536,957.9 1538,957.9 1540,958 1542,958 1544,958 1546,958.1 1548,958.1 1550,958.2 1552,958.2 1554,958.2 1556,958.3 1558,958.4 1560,958.4 1562,958.5 1564,958.5 1566,958.6 1568,958.7 1570,958.8 1572,958.9 1574,959 1576,959.1 1578,959.2 1580,959.3 1582,959.4 1584,959.6 1586,959.7 1588,959.9 1590,960.1 1592,960.2 1594,960.4 1596,960.6 1598,960.8 1600,961 1602,961.3 1604,961.5 1606,961.7 1608,962 1610,962.2 1612,962.5 1614,962.8 1616,963.1 1618,963.4 1620,963.7 1622,964 1624,964.3 1626,964.6 1628,964.9 1630,965.3 1632,965.6 1634,965.9 1636,966.3 1638,966.6 1640,967 1642,967.4 1644,967.7 1646,968.1 1648,968.5 1650,968.8 1652,969.2 1654,969.6 1656,970 1658,970.3 1660,970.7 1662,971.1 1664,971.5 1666,971.8 1668,972.2 1670,972.6 1672,972.9 1674,973.3 1676,973.7 1678,974 1680,974.4 1682,974.8 1684,975.1 1686,975.5 1688,975.8 1690,976.2 1692,976.5 1694,976.8 1696,977.1 1698,977.5 1700,977.8 1702,978.1 1704,978.4 1706,978.7 1708,979 1710,979.3 1712,979.6 1714,979.8 1716,980.1 1718,980.4 1720,980.6 1722,980.9 1724,981.1 1726,981.4 1728,981.6 1730,981.8 1732,982.1 1734,982.3 1736,982.5 1738,982.7 1740,982.9 1742,983.1 1744,983.3 1746,983.5 1748,983.7 1750,983.8 1752,984 1754,984.2 1756,984.3 1758,984.5 1760,984.6 1762,984.8 1764,984.9 1766,985 1768,985.2 1770,985.3 1772,985.4 1774,985.5 1776,985.7 1778,985.8 1780,985.9 1782,986 1784,986.1 1786,986.2 1788,986.3 1790,986.4 1792,986.5 1794,986.6 1796,986.7 1798,986.7 1800,986.8 1802,986.9 1804,987 1806,987.1 1808,987.1 1810,987.2 1812,987.3 1814,987.3 1816,987.4 1818,987.5 1820,987.5 1822,987.6 1824,987.7 1826,987.7 1828,987.8 1830,987.8 1832,987.9 1834,987.9 1836,988 1838,988 1840,988.1 1842,988.1 1844,988.2 1846,988.3 1848,988.3 1850,988.3 1852,988.4 1854,988.4 1856,988.5 1858,988.5 1860,988.6 1862,988.6 1864,988.7 1866,988.7 1868,988.8 1870,988.8 1872,988.9 1874,988.9 1876,988.9 1878,989 1880,989 1882,989.1 1884,989.1 1886,989.2 1888,989.2 1890,989.2 1892,989.3 1894,989.3 1896,989.4 1898,989.4 1900,989.4 1902,989.5 1904,989.5 1906,989.6 1908,989.6 1910,989.6 1912,989.7 1914,989.7 1916,989.8 1918,989.8 1920,989.8 1922,989.9 1924,989.9 1926,990 1928,990 1930,990 1932,990.1 1934,990.1 1936,990.2 1938,990.2 1940,990.2 1942,990.3 1944,990.3 1946,990.3 1948,990.4 1950,990.4 1952,990.5 1954,990.5 1956,990.5 1958,990.6 1960,990.6 1962,990.7 1964,990.7 1966,990.7 1968,990.8 1970,990.8 1972,990.8 1974,990.9 1976,990.9" fill="none" stroke="#aa00ff" stroke-width="11.7" stroke-linejoin="round" stroke-linecap="square"/>
<polyline points="404,963.9 406,963.9 408,963.9 410,963.9 412,963.9 414,963.9 416,963.9 418,963.9 420,963.9 422,963.9 424,963.9 426,963.9 428,963.9 430,963.9 432,963.8 434,963.8 436,963.8 438,963.8 440,963.8 442,963.8 444,963.7 446,963.7 448,963.7 450,963.7 452,963.6 454,963.6 456,963.6 458,963.5 460,963.5 462,963.4 464,963.4 466,963.3 468,963.3 470,963.2 472,963.2 474,963.1 476,963.1 478,963 480,962.9 482,962.8 484,962.8 486,962.7 488,962.6 490,962.5 492,962.4 494,962.3 496,962.1 498,962 500,961.9 502,961.8 504,961.6 506,961.5 508,961.3 510,961.1 512,960.9 514,960.7 516,960.5 518,960.3 520,960.1 522,959.8 524,959.6 526,959.3 528,959 530,958.7 532,958.4 534,958.1 536,957.7 538,957.3 540,956.9 542,956.5 544,956 546,955.6 548,955 550,954.5 552,953.9 554,953.3 556,952.7 558,952 560,951.3 562,950.6 564,949.8 566,949 568,948.1 570,947.2 572,946.3 574,945.4 576,944.4 578,943.4 580,942.4 582,941.3 584,940.3 586,939.3 588,938.3 590,937.3 592,936.4 594,935.5 596,934.8 598,934.1 600,933.5 602,933.1 604,932.7 606,932.6 608,932.5 610,932.7 612,932.9 614,933.3 616,933.9 618,934.5 620,935.3 622,936.2 624,937.1 626,938.1 628,939.1 630,940.2 632,941.3 634,942.4 636,943.5 638,944.6 640,945.6 642,946.7 644,947.7 646,948.7 648,949.6 650,950.5 652,951.4 654,952.3 656,953.1 658,953.8 660,954.6 662,955.2 664,955.9 666,956.5 668,957.1 670,957.7 672,958.3 674,958.8 676,959.3 678,959.7 680,960.2 682,960.6 684,961 686,961.4 688,961.8 690,962.1 692,962.4 694,962.8 696,963.1 698,963.4 700,963.6 702,963.9 704,964.2 706,964.4 708,964.6 710,964.9 712,965.1 714,965.3 716,965.5 718,965.7 720,965.9 722,966.1 724,966.2 726,966.4 728,966.6 730,966.7 732,966.9 734,967 736,967.2 738,967.3 740,967.5 742,967.6 744,967.7 746,967.8 748,968 750,968.1 752,968.2 754,968.3 756,968.4 758,968.5 760,968.6 762,968.7 764,968.8 766,968.9 768,969 770,969.1 772,969.2 774,969.3 776,969.4 778,969.5 780,969.5 782,969.6 784,969.7 786,969.8 788,969.9 790,969.9 792,970 794,970.1 796,970.1 798,970.2 800,970.3 802,970.4 804,970.4 806,970.5 808,970.6 810,970.6 812,970.7 814,970.8 816,970.8 818,970.9 820,970.9 822,971 824,971.1 826,971.1 828,971.2 830,971.2 832,971.3 834,971.3 836,971.4 838,971.5 840,971.5 842,971.6 844,971.6 846,971.7 848,971.7 850,971.8 852,971.8 854,971.9 856,971.9 858,972 860,972 862,972.1 864,972.1 866,972.2 868,972.2 870,972.3 872,972.3 874,972.4 876,972.4 878,972.5 880,972.5 882,972.6 884,972.6 886,972.7 888,972.7 890,972.7 892,972.8 894,972.8 896,972.9 898,972.9 900,973 902,973 904,973.1 906,973.1 908,973.1 910,973.2 912,973.2 914,973.3 916,973.3 918,973.4 920,973.4 922,973.4 924,973.5 926,973.5 928,973.6 930,973.6 932,973.6 934,973.7 936,973.7 938,973.8 940,973.8 942,973.8 944,973.9 946,973.9 948,974 950,974 952,974 954,974.1 956,974.1 958,974.2 960,974.2 962,974.2 964,974.3 966,974.3 968,974.4 970,974.4 972,974.4 974,974.5 976,974.5 978,974.6 980,974.6 982,974.6 984,974.7 986,974.7 988,974.7 990,974.8 992,974.8 994,974.9 996,974.9 998,974.9 1000,975 1002,975 1004,975.1 1006,975.1 1008,975.1 1010,975.2 1012,975.2 1014,975.2 1016,975.3 1018,975.3 1020,975.3 1022,975.4 1024,975.4 1026,975.5 1028,975.5 1030,975.5 1032,975.6 1034,975.6 1036,975.6 1038,975.7 1040,975.7 1042,975.8 1044,975.8 1046,975.8 1048,975.9 1050,975.9 1052,975.9 1054,976 1056,976 1058,976 1060,976.1 1062,976.1 1064,976.1 1066,976.2 1068,976.2 1070,976.3 1072,976.3 1074,976.3 1076,976.4 1078,976.4 1080,976.4 1082,976.5 1084,976.5 1086,976.5 1088,976.6 1090,976.6 1092,976.6 1094,976.7 1096,976.7 1098,976.8 1100,976.8 1102,976.8 1104,976.9 1106,976.9 1108,976.9 1110,977 1112,977 1114,977 1116,977.1 1118,977.1 1120,977.1 1122,977.2 1124,977.2 1126,977.2 1128,977.3 1130,977.3 1132,977.3 1134,977.4 1136,977.4 1138,977.5 1140,977.5 1142,977.5 1144,977.6 1146,977.6 1148,977.6 1150,977.7 1152,977.7 1154,977.7 1156,977.8 1158,977.8 1160,977.8 1162,977.9 1164,977.9 1166,977.9 1168,978 1170,978 1172,978 1174,978.1 1176,978.1 1178,978.1 1180,978.2 1182,978.2 1184,978.2 1186,978.3 1188,978.3 1190,978.3 1192,978.4 1194,978.4 1196,978.4 1198,978.5 1200,978.5 1202,978.6 1204,978.6 1206,978.6 1208,978.7 1210,978.7 1212,978.7 1214,978.8 1216,978.8 1218,978.8 1220,978.9 1222,978.9 1224,978.9 1226,979 1228,979 1230,979 1232,979.1 1234,979.1 1236,979.1 1238,979.2 1240,979.2 1242,979.2 1244,979.3 1246,979.3 1248,979.3 1250,979.4 1252,979.4 1254,979.4 1256,979.5 1258,979.5 1260,979.5 1262,979.6 1264,979.6 1266,979.6 1268,979.7 1270,979.7 1272,979.7 1274,979.8 1276,979.8 1278,979.8 1280,979.9 1282,979.9 1284,979.9 1286,980 1288,980 1290,980 1292,980.1 1294,980.1 1296,980.1 1298,980.2 1300,980.2 1302,980.2 1304,980.3 1306,980.3 1308,980.3 1310,980.4 1312,980.4 1314,980.4 1316,980.4 1318,980.5 1320,980.5 1322,980.5 1324,980.6 1326,980.6 1328,980.6 1330,980.7 1332,980.7 1334,980.7 1336,980.8 1338,980.8 1340,980.8 1342,980.9 1344,980.9 1346,980.9 1348,981 1350,981 1352,981 1354,981.1 1356,981.1 1358,981.1 1360,981.2 1362,981.2 1364,981.2 1366,981.3 1368,981.3 1370,981.3 1372,981.3 1374,981.4 1376,981.4 1378,981.4 1380,981.5 1382,981.5 1384,981.5 1386,981.6 1388,981.6 1390,981.6 1392,981.7 1394,981.7 1396,981.7 1398,981.8 1400,981.8 1402,981.8 1404,981.8 1406,981.9 1408,981.9 1410,981.9 1412,982 1414,982 1416,982 1418,982.1 1420,982.1 1422,982.1 1424,982.2 1426,982.2 1428,982.2 1430,982.2 1432,982.3 1434,982.3 1436,982.3 1438,982.4 1440,982.4 1442,982.4 1444,982.4 1446,982.5 1448,982.5 1450,982.5 1452,982.6 1454,982.6 1456,982.6 1458,982.6 1460,982.7 1462,982.7 1464,982.7 1466,982.8 1468,982.8 1470,982.8 1472,982.8 1474,982.9 1476,982.9 1478,982.9 1480,982.9 1482,983 1484,983 1486,983 1488,983 1490,983.1 1492,983.1 1494,983.1 1496,983.1 1498,983.2 1500,983.2 1502,983.2 1504,983.2 1506,983.3 1508,983.3 1510,983.3 1512,983.3 1514,983.3 1516,983.4 1518,983.4 1520,983.4 1522,983.4 1524,983.4 1526,983.5 1528,983.5 1530,983.5 1532,983.5 1534,983.5 1536,983.6 1538,983.6 1540,983.6 1542,983.6 1544,983.6 1546,983.6 1548,983.6 1550,983.6 1552,983.6 1554,983.7 1556,983.7 1558,983.7 1560,983.7 1562,983.7 1564,983.7 1566,983.7 1568,983.7 1570,983.7 1572,983.7 1574,983.7 1576,983.6 1578,983.6 1580,983.6 1582,983.6 1584,983.6 1586,983.6 1588,983.5 1590,983.5 1592,983.5 1594,983.4 1596,983.4 1598,983.3 1600,983.2 1602,983.2 1604,983.1 1606,983 1608,982.9 1610,982.8 1612,982.7 1614,982.6 1616,982.5 1618,982.3 1620,982.1 1622,982 1624,981.8 1626,981.6 1628,981.4 1630,981.2 1632,980.9 1634,980.6 1636,980.4 1638,980.1 1640,979.8 1642,979.4 1644,979.1 1646,978.7 1648,978.3 1650,977.9 1652,977.5 1654,977.1 1656,976.7 1658,976.2 1660,975.8 1662,975.3 1664,974.9 1666,974.4 1668,974 1670,973.5 1672,973.1 1674,972.7 1676,972.4 1678,972.1 1680,971.8 1682,971.6 1684,971.4 1686,971.3 1688,971.2 1690,971.3 1692,971.3 1694,971.5 1696,971.7 1698,972 1700,972.3 1702,972.7 1704,973.1 1706,973.5 1708,974 1710,974.5 1712,975 1714,975.5 1716,976 1718,976.5 1720,977.1 1722,977.6 1724,978.1 1726,978.6 1728,979.1 1730,979.5 1732,980 1734,980.4 1736,980.8 1738,981.2 1740,981.6 1742,982 1744,982.4 1746,982.7 1748,983 1750,983.3 1752,983.6 1754,983.9 1756,984.1 1758,984.4 1760,984.6 1762,984.8 1764,985 1766,985.2 1768,985.4 1770,985.6 1772,985.7 1774,985.9 1776,986 1778,986.2 1780,986.3 1782,986.4 1784,986.6 1786,986.7 1788,986.8 1790,986.9 1792,987 1794,987.1 1796,987.2 1798,987.2 1800,987.3 1802,987.4 1804,987.5 1806,987.6 1808,987.6 1810,987.7 1812,987.8 1814,987.8 1816,987.9 1818,988 1820,988 1822,988.1 1824,988.2 1826,988.2 1828,988.3 1830,988.3 1832,988.4 1834,988.4 1836,988.5 1838,988.6 1840,988.6 1842,988.7 1844,988.7 1846,988.8 1848,988.8 1850,988.9 1852,988.9 1854,989 1856,989 1858,989.1 1860,989.1 1862,989.2 1864,989.2 1866,989.2 1868,989.3 1870,989.3 1872,989.4 1874,989.4 1876,989.5 1878,989.5 1880,989.6 1882,989.6 1884,989.6 1886,989.7 1888,989.7 1890,989.8 1892,989.8 1894,989.9 1896,989.9 1898,989.9 1900,990 1902,990 1904,990.1 1906,990.1 1908,990.1 1910,990.2 1912,990.2 1914,990.3 1916,990.3 1918,990.3 1920,990.4 1922,990.4 1924,990.5 1926,990.5 1928,990.5 1930,990.6 1932,990.6 1934,990.6 1936,990.7 1938,990.7 1940,990.8 1942,990.8 1944,990.8 1946,990.9 1948,990.9 1950,990.9 1952,991 1954,991 1956,991.1 1958,991.1 1960,991.1 1962,991.2 1964,991.2 1966,991.2 1968,991.3 1970,991.3 1972,991.4 1974,991.4 1976,991.4" fill="none" stroke="#ff00c8" stroke-width="11.7" stroke-linejoin="round" stroke-linecap="square"/>
<polyline points="404,1372.8 406,1372.8 408,1372.8 410,1372.8 412,1372.8 414,1372.8 416,1372.8 418,1372.8 420,1372.8 422,1372.8 424,1372.8 426,1372.8 428,1372.8 430,1372.8 432,1372.8 434,1372.8 436,1372.8 438,1372.8 440,1372.8 442,1372.8 444,1372.8 446,1372.8 448,1372.8 450,1372.8 452,1372.8 454,1372.8 456,1372.8 458,1372.8 460,1372.8 462,1372.8 464,1372.8 466,1372.8 468,1372.8 470,1372.8 472,1372.8 474,1372.7 476,1372.7 478,1372.6 480,1372.5 482,1372.5 484,1372.3 486,1372.2 488,1372.1 490,1371.9 492,1371.7 494,1371.5 496,1371.2 498,1370.9 500,1370.6 502,1370.2 504,1369.8 506,1369.4 508,1368.9 510,1368.4 512,1367.8 514,1367.2 516,1366.5 518,1365.8 520,1365.1 522,1364.3 524,1363.4 526,1362.5 528,1361.6 530,1360.7 532,1359.8 534,1358.8 536,1357.9 538,1356.9 540,1355.9 542,1355 544,1354.1 546,1353.2 548,1352.2 550,1351.2 552,1350.1 554,1349.1 556,1348 558,1346.9 560,1345.8 562,1344.8 564,1343.7 566,1342.6 568,1341.6 570,1340.6 572,1339.7 574,1338.8 576,1337.9 578,1337.1 580,1336.6 582,1336.4 584,1336.6 586,1337 588,1337.7 590,1338.4 592,1339.3 594,1340.2 596,1341 598,1341.9 600,1342.9 602,1344 604,1345.2 606,1346.5 608,1347.9 610,1349.2 612,1350.5 614,1351.8 616,1353 618,1354 620,1355 622,1355.8 624,1356.4 626,1356.8 628,1357 630,1357 632,1356.9 634,1356.7 636,1356.4 638,1356 640,1355.5 642,1355.1 644,1354.7 646,1354.3 648,1353.9 650,1353.6 652,1353.5 654,1353.5 656,1353.6 658,1353.9 660,1354.3 662,1354.7 664,1355.2 666,1355.6 668,1356.1 670,1356.6 672,1357 674,1357.5 676,1357.9 678,1358.4 680,1358.8 682,1359.2 684,1359.7 686,1360.1 688,1360.6 690,1361 692,1361.5 694,1361.9 696,1362.3 698,1362.7 700,1363.1 702,1363.4 704,1363.7 706,1364 708,1364.2 710,1364.3 712,1364.3 714,1364.1 716,1363.7 718,1363.2 720,1362.6 722,1361.9 724,1361.2 726,1360.4 728,1359.6 730,1358.9 732,1358.1 734,1357.5 736,1356.8 738,1356 740,1355.2 742,1354.4 744,1353.5 746,1352.6 748,1351.8 750,1350.9 752,1349.9 754,1349 756,1348.2 758,1347.3 760,1346.4 762,1345.6 764,1344.8 766,1344.1 768,1343.4 770,1342.7 772,1342.2 774,1341.6 776,1341.2 778,1340.8 780,1340.7 782,1340.6 784,1340.7 786,1341 788,1341.3 790,1341.7 792,1342.1 794,1342.6 796,1343.2 798,1343.7 800,1344.2 802,1344.7 804,1345.2 806,1345.8 808,1346.3 810,1346.9 812,1347.4 814,1348 816,1348.6 818,1349.1 820,1349.7 822,1350.3 824,1350.9 826,1351.5 828,1352.1 830,1352.7 832,1353.3 834,1353.9 836,1354.6 838,1355.3 840,1356.1 842,1357 844,1357.9 846,1358.8 848,1359.8 850,1360.8 852,1361.7 854,1362.7 856,1363.7 858,1364.7 860,1365.6 862,1366.5 864,1367.3 866,1368.1 868,1368.8 870,1369.5 872,1370 874,1370.5 876,1370.8 878,1371 880,1371.1 882,1371 884,1370.8 886,1370.5 888,1370.1 890,1369.6 892,1369 894,1368.3 896,1367.6 898,1366.8 900,1366 902,1365.2 904,1364.3 906,1363.5 908,1362.6 910,1361.7 912,1360.9 914,1360.1 916,1359.4 918,1358.7 920,1358 922,1357.5 924,1357 926,1356.6 928,1356.4 930,1356.1 932,1355.9 934,1355.7 936,1355.5 938,1355.3 940,1355.1 942,1355 944,1354.9 946,1354.8 948,1354.8 950,1354.7 952,1354.8 954,1354.9 956,1355 958,1355.1 960,1355.4 962,1355.8 964,1356.3 966,1357 968,1357.8 970,1358.8 972,1359.7 974,1360.7 976,1361.8 978,1362.8 980,1363.8 982,1364.8 984,1365.7 986,1366.5 988,1367.2 990,1367.8 992,1368.1 994,1368.4 996,1368.5 998,1368.4 1000,1368.3 1002,1368.1 1004,1367.8 1006,1367.4 1008,1366.9 1010,1366.3 1012,1365.6 1014,1364.8 1016,1364 1018,1363 1020,1362.1 1022,1361 1024,1360 1026,1358.9 1028,1357.8 1030,1356.7 1032,1355.7 1034,1354.6 1036,1353.6 1038,1352.7 1040,1351.8 1042,1351 1044,1350.2 1046,1349.6 1048,1349.1 1050,1348.6 1052,1348.3 1054,1348.1 1056,1347.9 1058,1347.9 1060,1347.9 1062,1348 1064,1348.2 1066,1348.5 1068,1348.9 1070,1349.3 1072,1349.9 1074,1350.4 1076,1351 1078,1351.6 1080,1352.3 1082,1353 1084,1353.7 1086,1354.4 1088,1355.1 1090,1355.9 1092,1356.7 1094,1357.5 1096,1358.3 1098,1359.1 1100,1360 1102,1360.9 1104,1361.9 1106,1363 1108,1364.3 1110,1365.6 1112,1366.9 1114,1368.3 1116,1369.6 1118,1370.8 1120,1372 1122,1373 1124,1373.8 1126,1374.4 1128,1374.8 1130,1375.2 1132,1375.5 1134,1375.8 1136,1376 1138,1376.2 1140,1376.3 1142,1376.4 1144,1376.5 1146,1376.6 1148,1376.6 1150,1376.6 1152,1376.5 1154,1376.5 1156,1376.4 1158,1376.3 1160,1376.2 1162,1376.1 1164,1376 1166,1375.9 1168,1375.7 1170,1375.6 1172,1375.5 1174,1375.3 1176,1375.2 1178,1375 1180,1374.8 1182,1374.7 1184,1374.5 1186,1374.3 1188,1374.2 1190,1374 1192,1373.9 1194,1373.8 1196,1373.7 1198,1373.5 1200,1373.4 1202,1373.4 1204,1373.3 1206,1373.3 1208,1373.2 1210,1373.2 1212,1373.1 1214,1373.1 1216,1373 1218,1373 1220,1372.9 1222,1372.9 1224,1372.8 1226,1372.8 1228,1372.7 1230,1372.7 1232,1372.6 1234,1372.6 1236,1372.5 1238,1372.5 1240,1372.4 1242,1372.4 1244,1372.3 1246,1372.3 1248,1372.2 1250,1372.2 1252,1372.1 1254,1372.1 1256,1372 1258,1371.9 1260,1371.9 1262,1371.8 1264,1371.8 1266,1371.7 1268,1371.7 1270,1371.6 1272,1371.6 1274,1371.5 1276,1371.5 1278,1371.4 1280,1371.4 1282,1371.3 1284,1371.3 1286,1371.2 1288,1371.2 1290,1371.1 1292,1371.1 1294,1371 1296,1371 1298,1370.9 1300,1370.9 1302,1370.8 1304,1370.8 1306,1370.7 1308,1370.7 1310,1370.6 1312,1370.5 1314,1370.4 1316,1370.3 1318,1370.1 1320,1369.9 1322,1369.7 1324,1369.5 1326,1369.3 1328,1369.1 1330,1368.8 1332,1368.6 1334,1368.4 1336,1368.1 1338,1367.9 1340,1367.6 1342,1367.4 1344,1367.2 1346,1367 1348,1366.7 1350,1366.5 1352,1366.1 1354,1365.8 1356,1365.4 1358,1365 1360,1364.6 1362,1364.1 1364,1363.7 1366,1363.3 1368,1362.9 1370,1362.5 1372,1362.1 1374,1361.8 1376,1361.7 1378,1362 1380,1363 1382,1364.3 1384,1366.1 1386,1368 1388,1370.1 1390,1372.3 1392,1374.4 1394,1376.4 1396,1378.2 1398,1379.6 1400,1380.6 1402,1381.1 1404,1381 1406,1380.4 1408,1379.5 1410,1378.3 1412,1376.9 1414,1375.2 1416,1373.3 1418,1371.4 1420,1369.4 1422,1367.3 1424,1365.3 1426,1363.4 1428,1361.6 1430,1360 1432,1358.6 1434,1357.5 1436,1356.8 1438,1356.3 1440,1355.9 1442,1355.5 1444,1355.1 1446,1354.8 1448,1354.6 1450,1354.5 1452,1354.6 1454,1354.8 1456,1355.2 1458,1355.8 1460,1356.5 1462,1357.2 1464,1358 1466,1358.7 1468,1359.5 1470,1360.3 1472,1361.1 1474,1361.9 1476,1362.7 1478,1363.5 1480,1364.2 1482,1364.9 1484,1365.5 1486,1366.1 1488,1366.7 1490,1367.3 1492,1367.8 1494,1368.4 1496,1368.9 1498,1369.5 1500,1370 1502,1370.5 1504,1371 1506,1371.5 1508,1372 1510,1372.4 1512,1372.8 1514,1373.2 1516,1373.6 1518,1373.9 1520,1374.2 1522,1374.4 1524,1374.6 1526,1374.8 1528,1374.9 1530,1375 1532,1375 1534,1375 1536,1375 1538,1374.9 1540,1374.8 1542,1374.7 1544,1374.5 1546,1374.4 1548,1374.2 1550,1373.9 1552,1373.7 1554,1373.4 1556,1372.9 1558,1372.4 1560,1371.8 1562,1371.2 1564,1370.5 1566,1369.9 1568,1369.3 1570,1368.8 1572,1368.4 1574,1368.2 1576,1368 1578,1367.8 1580,1367.8 1582,1367.8 1584,1367.8 1586,1367.8 1588,1367.9 1590,1368 1592,1368.2 1594,1368.3 1596,1368.5 1598,1368.8 1600,1369.2 1602,1369.6 1604,1370.1 1606,1370.6 1608,1371.1 1610,1371.7 1612,1372.2 1614,1372.8 1616,1373.5 1618,1374.1 1620,1374.7 1622,1375.3 1624,1375.9 1626,1376.4 1628,1376.9 1630,1377.4 1632,1377.8 1634,1378.2 1636,1378.6 1638,1378.8 1640,1379 1642,1379.1 1644,1379.1 1646,1378.8 1648,1378.4 1650,1377.8 1652,1377.1 1654,1376.3 1656,1375.4 1658,1374.4 1660,1373.3 1662,1372.1 1664,1371 1666,1369.8 1668,1368.5 1670,1367.3 1672,1366.2 1674,1365 1676,1364 1678,1362.9 1680,1362 1682,1361.2 1684,1360.5 1686,1360 1688,1359.5 1690,1359.3 1692,1359.2 1694,1359.2 1696,1359.4 1698,1359.6 1700,1359.9 1702,1360.3 1704,1360.7 1706,1361.2 1708,1361.7 1710,1362.3 1712,1362.9 1714,1363.5 1716,1364.1 1718,1364.7 1720,1365.3 1722,1365.9 1724,1366.4 1726,1366.9 1728,1367.3 1730,1367.7 1732,1368 1734,1368.1 1736,1368.2 1738,1368.2 1740,1368.1 1742,1367.7 1744,1367.1 1746,1366.4 1748,1365.5 1750,1364.7 1752,1363.8 1754,1363 1756,1362.3 1758,1361.8 1760,1361.5 1762,1361.5 1764,1361.8 1766,1362.4 1768,1363.1 1770,1364.1 1772,1365.1 1774,1366.1 1776,1367.2 1778,1368.3 1780,1369.2 1782,1370 1784,1370.7 1786,1371.1 1788,1371.2 1790,1370.9 1792,1370.5 1794,1369.9 1796,1369.2 1798,1368.4 1800,1367.6 1802,1366.8 1804,1365.9 1806,1365 1808,1364.1 1810,1363.3 1812,1362.4 1814,1361.6 1816,1360.8 1818,1360.1 1820,1359.5 1822,1359 1824,1358.5 1826,1358.1 1828,1357.6 1830,1357.2 1832,1356.8 1834,1356.3 1836,1355.9 1838,1355.5 1840,1355 1842,1354.6 1844,1354.2 1846,1353.8 1848,1353.4 1850,1353 1852,1352.6 1854,1352.2 1856,1351.9 1858,1351.5 1860,1351.2 1862,1350.8 1864,1350.5 1866,1350.2 1868,1349.9 1870,1349.6 1872,1349.4 1874,1349.1 1876,1348.9 1878,1348.6 1880,1348.4 1882,1348.2 1884,1348 1886,1347.8 1888,1347.5 1890,1347.3 1892,1347.1 1894,1346.9 1896,1346.7 1898,1346.5 1900,1346.2 1902,1346 1904,1345.8 1906,1345.5 1908,1345.3 1910,1345 1912,1344.7 1914,1344.4 1916,1344.1 1918,1343.8 1920,1343.4 1922,1343 1924,1342.5 1926,1341.9 1928,1341.3 1930,1340.7 1932,1340.1 1934,1339.5 1936,1338.9 1938,1338.4 1940,1337.9 1942,1337.5 1944,1337.2 1946,1336.9 1948,1336.7 1950,1336.5 1952,1336.3 1954,1336.2 1956,1336 1958,1335.9 1960,1335.8 1962,1335.8 1964,1335.7 1966,1335.7 1968,1335.6 1970,1335.6 1972,1335.6 1974,1335.6 1976,1335.5" fill="none" stroke="#aaaaaa" stroke-width="11.7" stroke-linejoin="round" stroke-linecap="square"/>
</g>
<rect x="412.0" y="46.2" width="1557.0" height="1360.8" fill="none" stroke="#000" stroke-width="6" stroke-linejoin="miter"/>
<text transform="translate(352,1392.7) scale(1,0.965)" font-size="83.3" text-anchor="end">0</text>
<text transform="translate(352,1222.7) scale(1,0.965)" font-size="83.3" text-anchor="end">200</text>
<text transform="translate(352,1052.6) scale(1,0.965)" font-size="83.3" text-anchor="end">400</text>
<text transform="translate(352,882.6) scale(1,0.965)" font-size="83.3" text-anchor="end">600</text>
<text transform="translate(352,712.5) scale(1,0.965)" font-size="83.3" text-anchor="end">800</text>
<text transform="translate(352,542.5) scale(1,0.965)" font-size="83.3" text-anchor="end">1000</text>
<text transform="translate(352,372.5) scale(1,0.965)" font-size="83.3" text-anchor="end">1200</text>
<text transform="translate(352,202.4) scale(1,0.965)" font-size="83.3" text-anchor="end">1400</text>
<text transform="translate(412,1524.5) scale(1,0.965)" font-size="83.3" text-anchor="middle">2.0</text>
<text transform="translate(758,1524.5) scale(1,0.965)" font-size="83.3" text-anchor="middle">2.2</text>
<text transform="translate(1104,1524.5) scale(1,0.965)" font-size="83.3" text-anchor="middle">2.4</text>
<text transform="translate(1450,1524.5) scale(1,0.965)" font-size="83.3" text-anchor="middle">2.6</text>
<text transform="translate(1796,1524.5) scale(1,0.965)" font-size="83.3" text-anchor="middle">2.8</text>
<line x1="382.5" y1="1364.5" x2="412.0" y2="1364.5" stroke="#000" stroke-width="6"/><line x1="382.5" y1="1194.5" x2="412.0" y2="1194.5" stroke="#000" stroke-width="6"/><line x1="382.5" y1="1024.4" x2="412.0" y2="1024.4" stroke="#000" stroke-width="6"/><line x1="382.5" y1="854.4" x2="412.0" y2="854.4" stroke="#000" stroke-width="6"/><line x1="382.5" y1="684.3" x2="412.0" y2="684.3" stroke="#000" stroke-width="6"/><line x1="382.5" y1="514.3" x2="412.0" y2="514.3" stroke="#000" stroke-width="6"/><line x1="382.5" y1="344.3" x2="412.0" y2="344.3" stroke="#000" stroke-width="6"/><line x1="382.5" y1="174.2" x2="412.0" y2="174.2" stroke="#000" stroke-width="6"/><line x1="412" y1="1407.0" x2="412" y2="1436.2" stroke="#000" stroke-width="6"/><line x1="498.5" y1="1407.0" x2="498.5" y2="1422.5" stroke="#000" stroke-width="5"/><line x1="585" y1="1407.0" x2="585" y2="1422.5" stroke="#000" stroke-width="5"/><line x1="671.5" y1="1407.0" x2="671.5" y2="1422.5" stroke="#000" stroke-width="5"/><line x1="758" y1="1407.0" x2="758" y2="1436.2" stroke="#000" stroke-width="6"/><line x1="844.5" y1="1407.0" x2="844.5" y2="1422.5" stroke="#000" stroke-width="5"/><line x1="931" y1="1407.0" x2="931" y2="1422.5" stroke="#000" stroke-width="5"/><line x1="1017.5" y1="1407.0" x2="1017.5" y2="1422.5" stroke="#000" stroke-width="5"/><line x1="1104" y1="1407.0" x2="1104" y2="1436.2" stroke="#000" stroke-width="6"/><line x1="1190.5" y1="1407.0" x2="1190.5" y2="1422.5" stroke="#000" stroke-width="5"/><line x1="1277" y1="1407.0" x2="1277" y2="1422.5" stroke="#000" stroke-width="5"/><line x1="1363.5" y1="1407.0" x2="1363.5" y2="1422.5" stroke="#000" stroke-width="5"/><line x1="1450" y1="1407.0" x2="1450" y2="1436.2" stroke="#000" stroke-width="6"/><line x1="1536.5" y1="1407.0" x2="1536.5" y2="1422.5" stroke="#000" stroke-width="5"/><line x1="1623" y1="1407.0" x2="1623" y2="1422.5" stroke="#000" stroke-width="5"/><line x1="1709.5" y1="1407.0" x2="1709.5" y2="1422.5" stroke="#000" stroke-width="5"/><line x1="1796" y1="1407.0" x2="1796" y2="1436.2" stroke="#000" stroke-width="6"/><line x1="1882.5" y1="1407.0" x2="1882.5" y2="1422.5" stroke="#000" stroke-width="5"/><line x1="1969" y1="1407.0" x2="1969" y2="1422.5" stroke="#000" stroke-width="5"/>
<text transform="translate(1190,1640.5) scale(1,0.97)" font-size="83.3" text-anchor="middle">diffraction angle 2θ [°]</text>
<text transform="translate(88,726.5) rotate(-90) scale(1,0.97)" font-size="83.3" text-anchor="middle">intensity [a.u.]</text>
<g fill="#000"><rect x="612" y="129.7" width="12" height="12"/><rect x="645" y="129.7" width="12" height="12"/><rect x="678" y="129.7" width="12" height="12"/><rect x="711" y="129.7" width="12" height="12"/><rect x="744" y="129.7" width="1.5" height="12"/></g>
<circle cx="680.5" cy="135.7" r="12.4" fill="none" stroke="#000" stroke-width="8.3"/>
<text x="798.4" y="158.8" font-size="66.7">Experimental</text>
<line x1="612" y1="235.2" x2="745" y2="235.2" stroke="#0072d0" stroke-width="11.7" stroke-linecap="square"/>
<text x="798.4" y="258.6" font-size="66.7">Fit</text>
<line x1="612" y1="334.9" x2="745" y2="334.9" stroke="#ff0028" stroke-width="11.7" stroke-linecap="square"/>
<text x="799.9" y="356.8" font-size="66.7">ZrN</text>
<line x1="612" y1="434.3" x2="745" y2="434.3" stroke="#ff8000" stroke-width="11.7" stroke-linecap="square"/>
<text x="801.4" y="457.3" font-size="66.7">TiN</text>
<line x1="612" y1="535.2" x2="745" y2="535.2" stroke="#00f700" stroke-width="11.7" stroke-linecap="square"/>
<text x="800.9" y="556.6" font-size="66.7">t–ZrO<tspan dx="-0.5" dy="10" font-size="46.7">2</tspan></text>
<line x1="1377" y1="134.5" x2="1510" y2="134.5" stroke="#00ccff" stroke-width="11.7" stroke-linecap="square"/>
<text x="1565.5" y="159" font-size="66.7">c–ZrO<tspan dx="-0.5" dy="10" font-size="46.7">2</tspan></text>
<line x1="1377" y1="238.9" x2="1510" y2="238.9" stroke="#aa00ff" stroke-width="11.7" stroke-linecap="square"/>
<text x="1565" y="261.2" font-size="66.7">m–ZrO<tspan dx="-0.5" dy="10" font-size="46.7">2</tspan></text>
<line x1="1377" y1="342.7" x2="1510" y2="342.7" stroke="#ff00c8" stroke-width="11.7" stroke-linecap="square"/>
<text x="1565" y="364.1" font-size="66.7">r–TiO<tspan dx="-0.5" dy="10" font-size="46.7">2</tspan></text>
<line x1="1377" y1="442.9" x2="1510" y2="442.9" stroke="#aaaaaa" stroke-width="11.7" stroke-linecap="square"/>
<text x="1563.5" y="467.1" font-size="66.7">Difference</text>
</svg></body></html>
